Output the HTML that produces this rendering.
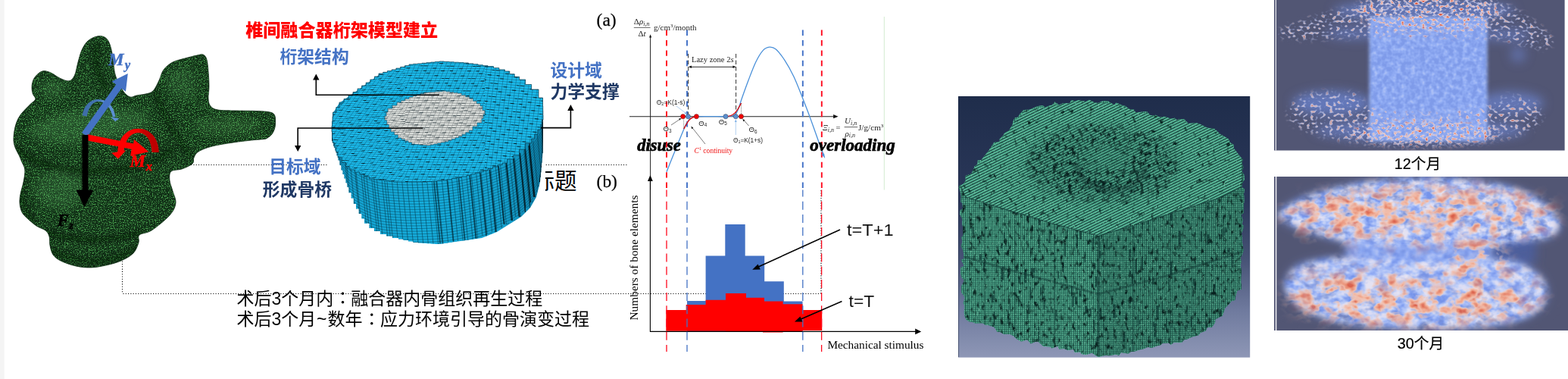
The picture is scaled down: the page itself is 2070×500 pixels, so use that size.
<!DOCTYPE html>
<html lang="zh-CN"><head><meta charset="utf-8"><title>椎间融合器桁架模型建立</title>
<style>
html,body{margin:0;padding:0;background:#fff;}
body{width:2070px;height:500px;overflow:hidden;font-family:"Liberation Sans","Noto Sans CJK SC",sans-serif;}
svg{display:block;position:absolute;left:0;top:0;}
.cj{font-family:"Liberation Sans","Noto Sans CJK SC",sans-serif;}
.se{font-family:"Liberation Serif","Noto Serif CJK SC",serif;}
.sa{font-family:"Liberation Sans","Noto Sans CJK SC",sans-serif;}
</style></head><body>
<svg width="2070" height="500" viewBox="0 0 2070 500">
<defs>
<clipPath id="vclip"><path d="M18.0 186.0C18.3 189.6 19.2 192.4 20.4 195.6C21.6 198.8 23.8 202.1 25.2 205.0C26.6 207.9 27.2 209.8 28.5 213.0C29.8 216.2 32.4 219.5 32.8 224.0C33.2 228.5 32.0 234.7 31.0 240.0C30.0 245.3 27.8 251.3 27.0 256.0C26.2 260.7 25.7 264.0 26.0 268.0C26.3 272.0 27.3 276.7 29.0 280.0C30.7 283.3 32.8 285.0 36.0 288.0C39.2 291.0 44.0 295.3 48.0 298.0C52.0 300.7 57.2 301.7 60.0 304.0C62.8 306.3 64.0 308.7 65.0 312.0C66.0 315.3 65.2 320.0 66.0 324.0C66.8 328.0 67.7 332.7 70.0 336.0C72.3 339.3 75.0 341.5 80.0 344.0C85.0 346.5 93.3 349.5 100.0 351.0C106.7 352.5 113.3 353.2 120.0 353.0C126.7 352.8 133.3 351.5 140.0 350.0C146.7 348.5 154.0 346.7 160.0 344.0C166.0 341.3 172.2 338.0 176.0 334.0C179.8 330.0 181.7 324.0 183.0 320.0C184.3 316.0 181.2 312.7 184.0 310.0C186.8 307.3 193.3 308.3 200.0 304.0C206.7 299.7 218.7 290.0 224.0 284.0C229.3 278.0 231.3 273.3 232.0 268.0C232.7 262.7 229.3 257.0 228.0 252.0C226.7 247.0 224.3 242.3 224.0 238.0C223.7 233.7 223.3 228.5 226.0 226.0C228.7 223.5 235.3 224.7 240.0 223.0C244.7 221.3 251.3 218.5 254.0 216.0C256.7 213.5 254.7 210.7 256.0 208.0C257.3 205.3 258.0 202.5 262.0 200.0C266.0 197.5 272.3 195.0 280.0 193.0C287.7 191.0 299.3 189.3 308.0 188.0C316.7 186.7 325.2 185.8 332.0 185.0C338.8 184.2 345.5 184.0 349.0 183.5C352.5 183.0 351.3 183.1 353.0 182.0C354.7 180.9 357.3 179.3 359.0 177.0C360.7 174.7 362.2 171.5 363.0 168.0C363.8 164.5 363.8 159.0 363.5 156.0C363.2 153.0 362.6 151.4 361.0 150.0C359.4 148.6 357.5 148.1 354.0 147.5C350.5 146.9 347.0 146.8 340.0 146.5C333.0 146.2 320.7 146.2 312.0 146.0C303.3 145.8 293.7 146.0 288.0 145.0C282.3 144.0 280.2 142.5 278.0 140.0C275.8 137.5 275.3 134.3 275.0 130.0C274.7 125.7 276.0 120.0 276.0 114.0C276.0 108.0 275.5 100.0 275.0 94.0C274.5 88.0 274.0 81.7 272.8 78.0C271.6 74.3 270.1 72.8 268.0 72.0C265.9 71.2 264.0 72.2 260.0 73.0C256.0 73.8 249.3 75.5 244.0 77.0C238.7 78.5 232.7 79.5 228.0 82.0C223.3 84.5 219.0 88.0 216.0 92.0C213.0 96.0 212.3 101.3 210.0 106.0C207.7 110.7 205.0 117.0 202.0 120.0C199.0 123.0 195.7 123.0 192.0 124.0C188.3 125.0 183.3 125.3 180.0 126.0C176.7 126.7 174.7 128.7 172.0 128.0C169.3 127.3 166.7 125.3 164.0 122.0C161.3 118.7 158.0 112.0 156.0 108.0C154.0 104.0 153.0 101.7 152.0 98.0C151.0 94.3 150.7 90.7 150.0 86.0C149.3 81.3 149.0 75.0 148.0 70.0C147.0 65.0 145.7 59.5 144.0 56.0C142.3 52.5 140.7 50.3 138.0 49.0C135.3 47.7 131.7 47.2 128.0 48.0C124.3 48.8 119.3 51.0 116.0 54.0C112.7 57.0 110.2 61.3 108.0 66.0C105.8 70.7 104.6 76.4 103.0 82.0C101.4 87.6 100.4 95.5 98.4 99.6C96.4 103.7 94.4 106.2 91.2 106.8C88.0 107.4 83.2 105.0 79.2 103.2C75.2 101.4 70.8 97.6 67.2 96.0C63.6 94.4 60.4 93.4 57.6 93.6C54.8 93.8 52.6 95.4 50.4 97.2C48.2 99.0 45.8 101.6 44.4 104.4C43.0 107.2 42.2 110.8 42.0 114.0C41.8 117.2 42.4 120.8 43.2 123.6C44.0 126.4 47.2 128.6 46.8 130.8C46.4 133.0 43.0 134.6 40.8 136.8C38.6 139.0 36.0 141.4 33.6 144.0C31.2 146.6 28.4 149.4 26.4 152.4C24.4 155.4 22.9 158.4 21.6 162.0C20.3 165.6 19.3 170.0 18.7 174.0C18.1 178.0 17.7 182.4 18.0 186.0Z"/></clipPath>
<pattern id="vdots" width="2.6" height="2.6" patternUnits="userSpaceOnUse" patternTransform="rotate(28)"><rect width="2.6" height="2.6" fill="#143a1b"/><rect x="0.2" y="0.2" width="1.5" height="1.5" fill="#4c9a52"/></pattern>
<filter id="vblur" x="-30%" y="-30%" width="160%" height="160%"><feGaussianBlur stdDeviation="6"/></filter>
<filter id="vblur2" x="-30%" y="-30%" width="160%" height="160%"><feGaussianBlur stdDeviation="3"/></filter>
<filter id="vnoise" filterUnits="userSpaceOnUse" x="10" y="40" width="360" height="320" color-interpolation-filters="sRGB"><feTurbulence type="fractalNoise" baseFrequency="0.75 0.75" numOctaves="2" seed="3" result="n"/><feColorMatrix type="matrix" values="0 0 0 0 0.30  0 0 0 0 0.66  0 0 0 0 0.32  0 5 0 0 -2.58"/></filter>
<linearGradient id="mxArc" x1="155" x2="210" y1="0" y2="0" gradientUnits="userSpaceOnUse"><stop offset="0" stop-color="#ff0000"/><stop offset="0.5" stop-color="#f00000"/><stop offset="0.62" stop-color="#c80000"/><stop offset="1" stop-color="#b80000"/></linearGradient>
<linearGradient id="myArc" x1="108" x2="156" y1="0" y2="0" gradientUnits="userSpaceOnUse"><stop offset="0" stop-color="#3d6ca6"/><stop offset="0.45" stop-color="#4474b0"/><stop offset="0.6" stop-color="#5b8fd2"/><stop offset="1" stop-color="#5b8fd2"/></linearGradient>
<clipPath id="cySide"><path d="M438.0 166.0L438.0 169.2L438.2 169.2L438.2 172.4L438.4 172.4L438.4 175.6L438.6 175.6L438.6 178.8L438.8 178.8L438.8 182.0L439.0 182.0L439.0 185.2L440.2 185.2L440.2 188.3L441.3 188.3L441.3 191.5L442.5 191.5L442.5 194.7L443.7 194.7L443.7 197.8L444.8 197.8L444.8 201.0L446.0 201.0L446.0 204.3L448.7 204.3L448.7 207.7L451.3 207.7L451.3 211.0L454.0 211.0L454.0 214.3L456.7 214.3L456.7 217.7L459.3 217.7L459.3 221.0L462.0 221.0L462.0 222.5L465.2 222.5L465.2 224.0L468.4 224.0L468.4 225.5L471.6 225.5L471.6 227.0L474.8 227.0L474.8 228.5L478.0 228.5L478.0 230.0L481.2 230.0L481.2 231.5L484.4 231.5L484.4 233.0L487.6 233.0L487.6 234.5L490.8 234.5L490.8 236.0L494.0 236.0L494.0 236.4L497.2 236.4L497.2 236.8L500.4 236.8L500.4 237.2L503.6 237.2L503.6 237.6L506.8 237.6L506.8 238.0L510.0 238.0L510.0 238.4L513.2 238.4L513.2 238.8L516.4 238.8L516.4 239.2L519.6 239.2L519.6 239.6L522.8 239.6L522.8 240.0L526.0 240.0L526.0 240.0L529.2 240.0L529.2 240.0L532.3 240.0L532.3 240.0L535.5 240.0L535.5 240.0L538.7 240.0L538.7 240.0L541.8 240.0L541.8 240.0L545.0 240.0L545.0 240.0L548.2 240.0L548.2 240.0L551.3 240.0L551.3 240.0L554.5 240.0L554.5 240.0L557.7 240.0L557.7 240.0L560.8 240.0L560.8 240.0L564.0 240.0L564.0 239.8L567.2 239.8L567.2 239.5L570.5 239.5L570.5 239.2L573.8 239.2L573.8 239.0L577.0 239.0L577.0 238.8L580.2 238.8L580.2 238.5L583.5 238.5L583.5 238.2L586.8 238.2L586.8 238.0L590.0 238.0L590.0 237.4L593.2 237.4L593.2 236.8L596.5 236.8L596.5 236.1L599.8 236.1L599.8 235.5L603.0 235.5L603.0 234.9L606.2 234.9L606.2 234.2L609.5 234.2L609.5 233.6L612.8 233.6L612.8 233.0L616.0 233.0L616.0 232.1L619.1 232.1L619.1 231.2L622.2 231.2L622.2 230.3L625.3 230.3L625.3 229.4L628.4 229.4L628.4 228.6L631.6 228.6L631.6 227.7L634.7 227.7L634.7 226.8L637.8 226.8L637.8 225.9L640.9 225.9L640.9 225.0L644.0 225.0L644.0 223.8L647.2 223.8L647.2 222.5L650.4 222.5L650.4 221.2L653.6 221.2L653.6 220.0L656.8 220.0L656.8 218.8L660.0 218.8L660.0 217.5L663.2 217.5L663.2 216.2L666.4 216.2L666.4 215.0L669.6 215.0L669.6 213.0L672.8 213.0L672.8 211.0L676.0 211.0L676.0 209.0L679.2 209.0L679.2 207.0L682.4 207.0L682.4 205.0L685.6 205.0L685.6 201.8L688.8 201.8L688.8 198.6L692.0 198.6L692.0 195.4L695.2 195.4L695.2 192.2L698.4 192.2L698.4 189.0L701.6 189.0L701.6 186.0L703.7 186.0L703.7 183.0L705.7 183.0L705.7 180.0L707.8 180.0L707.8 177.0L709.9 177.0L709.9 174.0L711.9 174.0L711.9 171.0L714.0 171.0L714.0 167.8L714.8 167.8L714.8 164.5L715.5 164.5L715.5 161.2L716.2 161.2L716.2 158.0L717.0 158.0L716.5 202.0L715.9 202.0L715.9 208.3L715.3 208.3L715.3 214.7L714.8 214.7L714.8 221.0L714.2 221.0L714.2 227.3L713.6 227.3L713.6 233.7L713.0 233.7L713.0 240.0L711.3 240.0L711.3 246.7L709.7 246.7L709.7 253.3L708.0 253.3L708.0 260.0L704.0 260.0L704.0 267.0L700.0 267.0L700.0 274.0L694.0 274.0L694.0 280.0L688.0 280.0L688.0 286.0L680.0 286.0L680.0 291.0L672.0 291.0L672.0 296.0L664.0 296.0L664.0 301.0L656.0 301.0L656.0 306.0L649.3 306.0L649.3 308.7L642.7 308.7L642.7 311.3L636.0 311.3L636.0 314.0L630.4 314.0L630.4 314.8L624.8 314.8L624.8 315.6L619.2 315.6L619.2 316.4L613.6 316.4L613.6 317.2L608.0 317.2L608.0 318.0L602.4 318.0L602.4 318.8L596.8 318.8L596.8 319.6L591.2 319.6L591.2 320.4L585.6 320.4L585.6 321.2L580.0 321.2L580.0 322.0L574.4 322.0L574.4 321.6L568.8 321.6L568.8 321.2L563.2 321.2L563.2 320.8L557.6 320.8L557.6 320.4L552.0 320.4L552.0 320.0L545.5 320.0L545.5 318.5L539.0 318.5L539.0 317.0L532.5 317.0L532.5 315.5L526.0 315.5L526.0 314.0L518.0 314.0L518.0 311.5L510.0 311.5L510.0 309.0L502.0 309.0L502.0 305.0L494.0 305.0L494.0 301.0L487.5 301.0L487.5 294.7L481.0 294.7L481.0 288.4L477.3 288.4L477.3 281.9L473.7 281.9L473.7 275.5L470.0 275.5L470.0 269.0L466.8 269.0L466.8 261.6L463.6 261.6L463.6 254.2L460.4 254.2L460.4 246.8L458.4 246.8L458.4 241.2L456.4 241.2L456.4 235.6L454.4 235.6L454.4 230.0L452.4 230.0L452.4 224.4L450.4 224.4L450.4 218.0L448.4 218.0L448.4 211.6L446.4 211.6L446.4 205.2L444.4 205.2L444.4 198.8L442.3 198.8L442.3 192.4L440.1 192.4L440.1 186.0L438.0 186.0L438.0 179.6Z"/></clipPath>
<clipPath id="cyTop"><path d="M438.0 166.0L438.5 166.0L438.5 160.0L439.1 160.0L439.1 154.0L439.6 154.0L439.6 148.0L443.8 148.0L443.8 141.5L448.0 141.5L448.0 135.0L454.0 135.0L454.0 130.5L460.0 130.5L460.0 126.0L466.0 126.0L466.0 121.5L472.0 121.5L472.0 117.0L477.6 117.0L477.6 113.0L483.2 113.0L483.2 109.0L488.8 109.0L488.8 105.0L494.4 105.0L494.4 101.0L500.0 101.0L500.0 97.0L505.7 97.0L505.7 95.3L511.4 95.3L511.4 93.6L517.1 93.6L517.1 91.9L522.9 91.9L522.9 90.1L528.6 90.1L528.6 88.4L534.3 88.4L534.3 86.7L540.0 86.7L540.0 85.0L545.7 85.0L545.7 84.4L551.4 84.4L551.4 83.9L557.1 83.9L557.1 83.3L562.9 83.3L562.9 82.7L568.6 82.7L568.6 82.1L574.3 82.1L574.3 81.6L580.0 81.6L580.0 81.0L586.4 81.0L586.4 81.4L592.8 81.4L592.8 81.8L599.2 81.8L599.2 82.2L605.6 82.2L605.6 82.6L612.0 82.6L612.0 83.0L618.4 83.0L618.4 83.9L624.8 83.9L624.8 84.8L631.2 84.8L631.2 85.8L637.6 85.8L637.6 86.7L644.0 86.7L644.0 87.6L651.5 87.6L651.5 89.7L658.9 89.7L658.9 91.9L666.4 91.9L666.4 94.0L672.8 94.0L672.8 97.7L679.2 97.7L679.2 101.3L685.6 101.3L685.6 105.0L693.6 105.0L693.6 111.5L701.6 111.5L701.6 118.0L711.0 118.0L711.0 129.0L716.5 129.0L716.5 140.0L716.7 140.0L716.7 146.0L716.8 146.0L716.8 152.0L717.0 152.0L717.0 158.0L715.5 158.0L715.5 164.5L714.0 164.5L714.0 171.0L709.9 171.0L709.9 177.0L705.7 177.0L705.7 183.0L701.6 183.0L701.6 189.0L693.6 189.0L693.6 197.0L685.6 197.0L685.6 205.0L677.6 205.0L677.6 210.0L669.6 210.0L669.6 215.0L663.2 215.0L663.2 217.5L656.8 217.5L656.8 220.0L650.4 220.0L650.4 222.5L644.0 222.5L644.0 225.0L638.4 225.0L638.4 226.6L632.8 226.6L632.8 228.2L627.2 228.2L627.2 229.8L621.6 229.8L621.6 231.4L616.0 231.4L616.0 233.0L609.5 233.0L609.5 234.2L603.0 234.2L603.0 235.5L596.5 235.5L596.5 236.8L590.0 236.8L590.0 238.0L583.5 238.0L583.5 238.5L577.0 238.5L577.0 239.0L570.5 239.0L570.5 239.5L564.0 239.5L564.0 240.0L557.7 240.0L557.7 240.0L551.3 240.0L551.3 240.0L545.0 240.0L545.0 240.0L538.7 240.0L538.7 240.0L532.3 240.0L532.3 240.0L526.0 240.0L526.0 240.0L519.6 240.0L519.6 239.2L513.2 239.2L513.2 238.4L506.8 238.4L506.8 237.6L500.4 237.6L500.4 236.8L494.0 236.8L494.0 236.0L487.6 236.0L487.6 233.0L481.2 233.0L481.2 230.0L474.8 230.0L474.8 227.0L468.4 227.0L468.4 224.0L462.0 224.0L462.0 221.0L456.7 221.0L456.7 214.3L451.3 214.3L451.3 207.7L446.0 207.7L446.0 201.0L443.7 201.0L443.7 194.7L441.3 194.7L441.3 188.3L439.0 188.3L439.0 182.0L438.5 182.0L438.5 174.0L438.0 174.0L438.0 166.0Z"/></clipPath>
<pattern id="cyTopPat" width="6.2" height="3.5" patternUnits="userSpaceOnUse" patternTransform="matrix(0.998 -0.03 -0.30 0.95 0 0)"><rect width="6.2" height="3.5" fill="#14b6e6"/><path d="M0 0.3H6.2" stroke="#083c52" stroke-width="0.6"/><path d="M0.3 0V3.5" stroke="#0a5070" stroke-width="0.6"/><path d="M0.8 1H6.2" stroke="#46ccf4" stroke-width="0.5" opacity="0.6"/></pattern>
<pattern id="cyDash" width="37.2" height="17.5" patternUnits="userSpaceOnUse" patternTransform="matrix(0.998 -0.03 -0.30 0.95 0 0)"><path d="M1 0.3h5M14 3.8h4.6M26 7.3h5M8 10.8h4.6M20 14.3h5M32 0.3h4M3 7.3h4" stroke="#01141c" stroke-width="0.95" fill="none"/></pattern>
<pattern id="cyGrayPat" width="6.2" height="3.5" patternUnits="userSpaceOnUse" patternTransform="matrix(0.998 -0.03 -0.30 0.95 0 0)"><rect width="6.2" height="3.5" fill="#d6dad7"/><path d="M0 0.3H6.2" stroke="#4a5052" stroke-width="0.6"/><path d="M0.3 0V3.5" stroke="#7c8284" stroke-width="0.6"/></pattern>
<linearGradient id="cySideG" x1="438" x2="717" y1="0" y2="0" gradientUnits="userSpaceOnUse"><stop offset="0" stop-color="#1192c0"/><stop offset="0.12" stop-color="#14a4d2"/><stop offset="0.45" stop-color="#15addc"/><stop offset="0.8" stop-color="#14a2d0"/><stop offset="1" stop-color="#0e7ea6"/></linearGradient>
<clipPath id="cyGray"><path d="M508.0 153.0L510.0 153.0L510.0 148.0L512.0 148.0L512.0 143.0L518.0 143.0L518.0 139.0L524.0 139.0L524.0 135.0L529.3 135.0L529.3 132.7L534.7 132.7L534.7 130.3L540.0 130.3L540.0 128.0L545.0 128.0L545.0 126.5L550.0 126.5L550.0 125.0L555.0 125.0L555.0 123.5L560.0 123.5L560.0 122.0L564.8 122.0L564.8 121.6L569.6 121.6L569.6 121.2L574.4 121.2L574.4 120.8L579.2 120.8L579.2 120.4L584.0 120.4L584.0 120.0L589.0 120.0L589.0 120.8L594.0 120.8L594.0 121.5L599.0 121.5L599.0 122.2L604.0 122.2L604.0 123.0L609.3 123.0L609.3 125.3L614.7 125.3L614.7 127.7L620.0 127.7L620.0 130.0L624.7 130.0L624.7 133.3L629.3 133.3L629.3 136.7L634.0 136.7L634.0 140.0L637.0 140.0L637.0 145.5L640.0 145.5L640.0 151.0L638.0 151.0L638.0 156.5L636.0 156.5L636.0 162.0L630.0 162.0L630.0 167.0L624.0 167.0L624.0 172.0L619.3 172.0L619.3 174.7L614.7 174.7L614.7 177.3L610.0 177.3L610.0 180.0L605.5 180.0L605.5 181.8L601.0 181.8L601.0 183.5L596.5 183.5L596.5 185.2L592.0 185.2L592.0 187.0L587.2 187.0L587.2 188.0L582.4 188.0L582.4 189.0L577.6 189.0L577.6 190.0L572.8 190.0L572.8 191.0L568.0 191.0L568.0 192.0L563.0 192.0L563.0 191.5L558.0 191.5L558.0 191.0L553.0 191.0L553.0 190.5L548.0 190.5L548.0 190.0L543.5 190.0L543.5 188.0L539.0 188.0L539.0 186.0L534.5 186.0L534.5 184.0L530.0 184.0L530.0 182.0L525.3 182.0L525.3 178.0L520.7 178.0L520.7 174.0L516.0 174.0L516.0 170.0L513.3 170.0L513.3 164.3L510.7 164.3L510.7 158.7L508.0 158.7L508.0 153.0Z"/></clipPath>
<pattern id="cyL0" width="5.8" height="3.5" patternUnits="userSpaceOnUse" patternTransform="matrix(0.999 -0.052 -0.574 0.819 0 0)"><path d="M0 0.3H5.8" stroke="#07445e" stroke-width="0.6"/><path d="M0.3 0V3.5" stroke="#0c5c80" stroke-width="0.55"/><path d="M0.9 0.95H5.8" stroke="#52d2f8" stroke-width="0.45" opacity="0.55"/></pattern>
<pattern id="cyD0" width="34.8" height="17.5" patternUnits="userSpaceOnUse" patternTransform="matrix(0.999 -0.052 -0.574 0.819 0 0)"><path d="M1 0.3h5M14 3.8h4.6M26 7.3h5M8 10.8h4.6M20 14.3h5M31 0.3h3.5M3 7.3h4" stroke="#01141c" stroke-width="0.95" fill="none"/></pattern>
<clipPath id="cyZ0"><rect x="430" y="70" width="105" height="190"/></clipPath>
<pattern id="cyG0" width="5.8" height="3.5" patternUnits="userSpaceOnUse" patternTransform="matrix(0.999 -0.052 -0.574 0.819 0 0)"><path d="M0 0.3H5.8" stroke="#4e5456" stroke-width="0.6"/><path d="M0.3 0V3.5" stroke="#777d7f" stroke-width="0.6"/></pattern>
<pattern id="cyL1" width="5.8" height="3.5" patternUnits="userSpaceOnUse" patternTransform="matrix(1.000 0.009 -0.375 0.927 0 0)"><path d="M0 0.3H5.8" stroke="#07445e" stroke-width="0.6"/><path d="M0.3 0V3.5" stroke="#0c5c80" stroke-width="0.55"/><path d="M0.9 0.95H5.8" stroke="#52d2f8" stroke-width="0.45" opacity="0.55"/></pattern>
<pattern id="cyD1" width="34.8" height="17.5" patternUnits="userSpaceOnUse" patternTransform="matrix(1.000 0.009 -0.375 0.927 0 0)"><path d="M1 0.3h5M14 3.8h4.6M26 7.3h5M8 10.8h4.6M20 14.3h5M31 0.3h3.5M3 7.3h4" stroke="#01141c" stroke-width="0.95" fill="none"/></pattern>
<clipPath id="cyZ1"><rect x="535" y="70" width="105" height="190"/></clipPath>
<pattern id="cyG1" width="5.8" height="3.5" patternUnits="userSpaceOnUse" patternTransform="matrix(1.000 0.009 -0.375 0.927 0 0)"><path d="M0 0.3H5.8" stroke="#4e5456" stroke-width="0.6"/><path d="M0.3 0V3.5" stroke="#777d7f" stroke-width="0.6"/></pattern>
<pattern id="cyL2" width="5.8" height="3.5" patternUnits="userSpaceOnUse" patternTransform="matrix(0.996 0.087 -0.139 0.990 0 0)"><path d="M0 0.3H5.8" stroke="#07445e" stroke-width="0.6"/><path d="M0.3 0V3.5" stroke="#0c5c80" stroke-width="0.55"/><path d="M0.9 0.95H5.8" stroke="#52d2f8" stroke-width="0.45" opacity="0.55"/></pattern>
<pattern id="cyD2" width="34.8" height="17.5" patternUnits="userSpaceOnUse" patternTransform="matrix(0.996 0.087 -0.139 0.990 0 0)"><path d="M1 0.3h5M14 3.8h4.6M26 7.3h5M8 10.8h4.6M20 14.3h5M31 0.3h3.5M3 7.3h4" stroke="#01141c" stroke-width="0.95" fill="none"/></pattern>
<clipPath id="cyZ2"><rect x="640" y="70" width="85" height="190"/></clipPath>
<pattern id="cyG2" width="5.8" height="3.5" patternUnits="userSpaceOnUse" patternTransform="matrix(0.996 0.087 -0.139 0.990 0 0)"><path d="M0 0.3H5.8" stroke="#4e5456" stroke-width="0.6"/><path d="M0.3 0V3.5" stroke="#777d7f" stroke-width="0.6"/></pattern>
<linearGradient id="laBg" x1="0" x2="0" y1="127" y2="471.5" gradientUnits="userSpaceOnUse"><stop offset="0" stop-color="#1f2d4b"/><stop offset="0.4" stop-color="#2a3759"/><stop offset="0.62" stop-color="#465275"/><stop offset="0.82" stop-color="#6f7a9e"/><stop offset="1" stop-color="#8e97b6"/></linearGradient>
<clipPath id="laClip"><path d="M1267.6 245.3L1271.8 242.4L1274.8 238.4L1274.5 232.1L1282.5 229.2L1285.6 222.5L1286.6 219.3L1290.3 217.1L1290.9 211.3L1295.6 211.1L1301.4 203.2L1305.0 199.2L1307.5 195.2L1307.8 195.1L1312.4 187.8L1319.8 187.3L1319.7 183.8L1324.5 178.4L1326.2 175.8L1332.2 172.0L1336.7 164.6L1337.4 160.0L1339.8 155.5L1344.0 154.4L1346.0 150.9L1351.2 145.0L1359.1 144.8L1361.9 143.6L1369.3 140.3L1376.2 138.9L1380.4 142.1L1382.1 140.6L1389.3 138.4L1392.4 134.6L1398.3 138.4L1403.4 136.3L1412.2 136.3L1414.2 132.2L1420.1 133.4L1423.0 132.3L1431.5 133.4L1432.6 134.4L1437.9 131.8L1445.6 135.4L1449.2 136.0L1455.2 133.4L1459.0 133.2L1462.8 133.6L1471.0 138.6L1473.5 135.4L1483.1 139.6L1485.4 139.8L1491.6 144.6L1496.2 144.2L1499.4 148.4L1504.6 148.0L1513.9 147.1L1518.6 152.3L1523.2 152.5L1525.7 151.7L1531.1 154.8L1537.0 153.8L1545.9 156.8L1550.9 155.8L1553.6 158.2L1558.7 156.9L1563.5 157.2L1568.8 163.0L1577.2 162.5L1580.3 162.4L1583.6 163.5L1592.6 168.1L1595.9 169.1L1603.4 170.0L1607.5 173.8L1610.5 176.9L1614.7 179.1L1621.8 183.6L1623.9 188.3L1628.8 191.0L1628.5 195.4L1632.7 200.7L1636.8 206.0L1640.8 210.5L1639.3 214.8L1641.4 220.9L1639.5 226.1L1642.3 230.4L1643.0 236.9L1640.7 239.8L1639.0 246.5L1643.1 249.7L1641.9 256.0L1642.2 258.3L1642.5 265.4L1641.9 269.6L1641.6 276.4L1641.7 281.1L1638.5 283.2L1640.7 290.8L1639.5 296.0L1641.7 297.6L1640.9 303.6L1638.7 308.1L1640.1 313.3L1639.4 317.6L1640.8 324.4L1641.6 330.5L1639.2 337.2L1637.6 339.7L1638.6 344.8L1637.4 352.1L1638.3 353.1L1639.2 358.5L1638.4 364.9L1638.2 373.2L1639.1 375.5L1638.6 381.7L1633.3 383.4L1631.5 389.8L1630.4 396.1L1625.6 397.1L1624.0 399.5L1617.0 406.7L1616.6 408.7L1613.7 416.8L1609.4 418.6L1604.4 421.4L1604.1 425.4L1599.9 431.7L1593.8 431.8L1591.7 436.5L1584.6 439.1L1582.3 442.2L1573.4 444.4L1567.3 447.4L1563.7 447.9L1559.8 451.9L1550.1 451.5L1545.8 454.8L1542.8 452.3L1534.5 453.0L1532.5 454.9L1525.3 457.1L1520.3 459.0L1515.5 457.8L1510.4 460.0L1503.9 461.4L1497.4 463.7L1493.1 464.0L1489.3 466.5L1480.2 465.1L1476.9 469.0L1473.7 467.5L1463.8 469.2L1460.5 468.5L1456.5 469.3L1449.9 471.1L1444.4 467.5L1441.8 465.6L1433.9 468.0L1427.7 467.1L1426.0 464.2L1418.9 465.1L1417.1 460.8L1409.9 462.1L1405.0 460.0L1398.2 460.4L1396.6 456.6L1388.6 459.4L1386.5 457.5L1377.5 456.7L1377.5 457.0L1371.0 451.0L1366.8 450.8L1360.8 453.5L1356.1 448.1L1348.4 450.5L1342.2 447.2L1338.1 443.2L1333.6 441.0L1325.5 441.0L1319.8 437.7L1316.7 437.9L1312.6 431.4L1304.6 429.0L1300.5 428.4L1297.3 426.3L1287.7 426.5L1283.2 424.7L1280.0 424.6L1275.3 421.6L1273.3 416.1L1272.7 412.1L1273.6 403.7L1271.6 399.8L1273.7 393.7L1273.1 391.1L1269.3 386.0L1268.9 378.0L1271.4 373.6L1272.8 369.9L1269.8 366.5L1268.2 361.2L1268.3 353.2L1272.9 350.9L1269.0 343.0L1272.8 340.9L1271.9 333.1L1270.8 329.2L1268.7 324.1L1270.6 319.2L1269.3 313.1L1271.5 310.8L1271.3 304.7L1271.4 300.1L1270.0 295.4L1270.6 289.5L1267.2 282.6L1267.7 277.6L1271.1 274.9L1270.4 267.4L1268.4 266.8L1268.8 259.2L1267.6 252.3L1265.6 247.4L1267.0 244.0Z"/></clipPath>
<clipPath id="laTopClip"><path d="M1266.2 242.5L1271.0 238.2L1273.8 235.6L1275.0 232.3L1278.2 228.1L1281.6 222.7L1286.5 222.0L1288.4 215.5L1294.0 214.8L1297.0 208.4L1302.1 203.0L1305.0 200.1L1305.4 195.5L1309.6 194.6L1312.5 189.6L1317.9 184.8L1321.0 179.5L1322.3 176.2L1328.5 173.2L1330.4 170.0L1334.5 164.8L1339.4 162.6L1340.5 158.1L1345.2 155.5L1349.5 149.0L1354.1 144.3L1357.1 146.0L1361.3 143.7L1366.3 143.3L1374.9 141.7L1380.8 139.5L1385.4 139.6L1390.4 137.8L1396.5 139.0L1399.9 136.7L1403.1 135.9L1410.6 136.2L1416.4 132.1L1419.5 132.7L1422.9 130.8L1428.5 129.9L1433.1 133.3L1438.4 131.6L1444.5 134.9L1448.2 133.6L1455.2 136.0L1461.4 136.5L1464.0 135.1L1469.4 137.7L1477.3 136.2L1479.1 138.2L1484.7 141.1L1491.5 141.8L1494.2 144.2L1501.1 146.6L1509.0 148.8L1512.2 149.5L1518.1 148.0L1524.3 152.2L1529.4 153.3L1532.4 152.6L1536.3 154.6L1541.3 153.1L1547.2 154.5L1552.9 155.0L1556.6 156.5L1562.2 158.4L1567.3 162.1L1575.4 160.3L1579.2 162.6L1585.1 163.1L1592.7 168.3L1596.4 167.5L1600.2 167.2L1605.9 171.4L1612.6 174.3L1613.7 181.2L1620.5 181.0L1625.2 183.9L1628.1 192.7L1632.6 196.1L1632.9 199.2L1635.5 205.6L1640.0 209.0L1640.0 209.0L1640.0 246.0L1610.0 261.0L1560.0 277.0L1500.0 296.0L1450.0 311.0L1390.0 295.0L1330.0 277.0L1275.0 260.0L1267.0 244.0Z"/></clipPath>
<clipPath id="laSideClip"><path d="M1267.0 244.0L1275.0 260.0L1330.0 277.0L1390.0 295.0L1450.0 311.0L1500.0 296.0L1560.0 277.0L1610.0 261.0L1640.0 246.0L1640.0 209.0L1641.0 260.0L1641.0 330.0L1637.0 381.0L1610.0 419.0L1585.0 440.0L1564.0 449.0L1530.0 456.0L1488.0 466.0L1450.0 469.0L1400.0 460.0L1355.0 450.0L1322.0 440.0L1305.0 430.0L1275.0 421.0L1271.0 380.0L1270.0 320.0L1269.0 270.0Z"/></clipPath>
<clipPath id="laBox"><rect x="1265.2" y="127" width="385" height="344.5"/></clipPath>
<pattern id="laStripe" width="6" height="3.3" patternUnits="userSpaceOnUse" patternTransform="rotate(-26)"><rect width="6" height="3.3" fill="#58bb99"/><rect y="2.05" width="6" height="1.25" fill="#153c39"/></pattern>
<pattern id="laGrid" width="2.6" height="2.6" patternUnits="userSpaceOnUse"><rect width="2.6" height="2.6" fill="#58ba97"/><path d="M0 0.4H2.6" stroke="#205a50" stroke-width="0.7"/><path d="M0.4 0V2.6" stroke="#1a4c45" stroke-width="0.85"/></pattern>
<filter id="laPoreSide" filterUnits="userSpaceOnUse" x="1265" y="127" width="386" height="345" color-interpolation-filters="sRGB"><feTurbulence type="fractalNoise" baseFrequency="0.2 0.13" numOctaves="2" seed="8"/><feColorMatrix type="matrix" values="0 0 0 0 0.03  0 0 0 0 0.13  0 0 0 0 0.12  2.6 2.6 0 0 -2.74" result="p"/><feComposite in="p" in2="SourceAlpha" operator="in"/></filter>
<filter id="laPoreRing" filterUnits="userSpaceOnUse" x="1265" y="127" width="386" height="345" color-interpolation-filters="sRGB"><feTurbulence type="fractalNoise" baseFrequency="0.2 0.16" numOctaves="2" seed="28"/><feColorMatrix type="matrix" values="0 0 0 0 0.03  0 0 0 0 0.13  0 0 0 0 0.12  2.6 2.6 0 0 -2.55" result="p"/><feGaussianBlur in="SourceAlpha" stdDeviation="6" result="sa"/><feComposite in="p" in2="sa" operator="in"/></filter>
<filter id="laPoreTop" filterUnits="userSpaceOnUse" x="1265" y="127" width="386" height="345" color-interpolation-filters="sRGB"><feTurbulence type="fractalNoise" baseFrequency="0.16 0.14" numOctaves="3" seed="38"/><feColorMatrix type="matrix" values="0 0 0 0 0.03  0 0 0 0 0.13  0 0 0 0 0.12  2.6 2.6 0 0 -3.05" result="p"/><feComposite in="p" in2="SourceAlpha" operator="in"/></filter>
<filter id="laLite" filterUnits="userSpaceOnUse" x="1265" y="127" width="386" height="345" color-interpolation-filters="sRGB"><feTurbulence type="fractalNoise" baseFrequency="0.5 0.5" numOctaves="1" seed="4"/><feColorMatrix type="matrix" values="0 0 0 0 0.62  0 0 0 0 0.9  0 0 0 0 0.78  2.2 2.2 0 0 -2.55" result="p"/><feComposite in="p" in2="SourceAlpha" operator="in"/></filter>
<filter id="laBlur" x="-30%" y="-30%" width="160%" height="160%"><feGaussianBlur stdDeviation="7"/></filter>
<filter id="laBlur3" x="-30%" y="-30%" width="160%" height="160%"><feGaussianBlur stdDeviation="2.5"/></filter>
<clipPath id="b1Clip"><rect x="1685" y="0" width="380.6" height="198.5"/></clipPath>
<clipPath id="b2Clip"><rect x="1685.4" y="233" width="384.6" height="203"/></clipPath>
<filter id="bBlur8" x="-30%" y="-30%" width="160%" height="160%"><feGaussianBlur stdDeviation="7"/></filter>
<filter id="bBlur4" x="-30%" y="-30%" width="160%" height="160%"><feGaussianBlur stdDeviation="4"/></filter>
<filter id="bBlur2" x="-30%" y="-30%" width="160%" height="160%"><feGaussianBlur stdDeviation="2"/></filter>
<filter id="b1col" filterUnits="userSpaceOnUse" x="1685" y="0" width="381" height="199" color-interpolation-filters="sRGB"><feTurbulence type="fractalNoise" baseFrequency="0.16 0.16" numOctaves="2" seed="3" result="n"/><feColorMatrix in="n" type="matrix" values="2.2 0 0 0 -0.75  2.2 0 0 0 -0.75  2.2 0 0 0 -0.75  0 0 0 0 1" result="g"/><feComponentTransfer in="g" result="c"><feFuncR type="table" tableValues="0.46 0.53 0.61 0.74"/><feFuncG type="table" tableValues="0.57 0.64 0.71 0.80"/><feFuncB type="table" tableValues="0.90 0.94 0.98 0.98"/></feComponentTransfer><feColorMatrix in="n" type="matrix" values="0 0 0 0 1  0 0 0 0 1  0 0 0 0 1  0 0 0 0 0.6" result="a"/><feComposite in="c" in2="a" operator="in" result="ca"/><feGaussianBlur in="SourceAlpha" stdDeviation="3" result="sa"/><feComposite in="ca" in2="sa" operator="in" result="o"/></filter>
<filter id="b1top" filterUnits="userSpaceOnUse" x="1685" y="0" width="381" height="199" color-interpolation-filters="sRGB"><feTurbulence type="fractalNoise" baseFrequency="0.2 0.26" numOctaves="1" seed="7" result="n"/><feColorMatrix in="n" type="matrix" values="3 0 0 0 -1.6  3 0 0 0 -1.6  3 0 0 0 -1.6  0 0 0 0 1" result="g"/><feComponentTransfer in="g" result="c"><feFuncR type="table" tableValues="0.55 0.69 0.82 0.91 0.92 0.88 0.82"/><feFuncG type="table" tableValues="0.63 0.73 0.80 0.78 0.65 0.47 0.31"/><feFuncB type="table" tableValues="0.88 0.91 0.89 0.78 0.59 0.39 0.25"/></feComponentTransfer><feColorMatrix in="n" type="matrix" values="0 0 0 0 1  0 0 0 0 1  0 0 0 0 1  8 0 0 0 -4.1" result="a"/><feComposite in="c" in2="a" operator="in" result="ca"/><feGaussianBlur in="SourceAlpha" stdDeviation="3" result="sa"/><feComposite in="ca" in2="sa" operator="in" result="o"/><feGaussianBlur in="o" stdDeviation="0.6"/></filter>
<filter id="b1bot" filterUnits="userSpaceOnUse" x="1685" y="0" width="381" height="199" color-interpolation-filters="sRGB"><feTurbulence type="fractalNoise" baseFrequency="0.2 0.26" numOctaves="1" seed="17" result="n"/><feColorMatrix in="n" type="matrix" values="3 0 0 0 -1.6  3 0 0 0 -1.6  3 0 0 0 -1.6  0 0 0 0 1" result="g"/><feComponentTransfer in="g" result="c"><feFuncR type="table" tableValues="0.55 0.69 0.82 0.91 0.92 0.88 0.82"/><feFuncG type="table" tableValues="0.63 0.73 0.80 0.78 0.65 0.47 0.31"/><feFuncB type="table" tableValues="0.88 0.91 0.89 0.78 0.59 0.39 0.25"/></feComponentTransfer><feColorMatrix in="n" type="matrix" values="0 0 0 0 1  0 0 0 0 1  0 0 0 0 1  8 0 0 0 -4.15" result="a"/><feComposite in="c" in2="a" operator="in" result="ca"/><feGaussianBlur in="SourceAlpha" stdDeviation="3.5" result="sa"/><feComposite in="ca" in2="sa" operator="in" result="o"/><feGaussianBlur in="o" stdDeviation="0.6"/></filter>
<filter id="b1dense" filterUnits="userSpaceOnUse" x="1685" y="0" width="381" height="199" color-interpolation-filters="sRGB"><feTurbulence type="fractalNoise" baseFrequency="0.22 0.28" numOctaves="1" seed="27" result="n"/><feColorMatrix in="n" type="matrix" values="3.4 0 0 0 -1.7  3.4 0 0 0 -1.7  3.4 0 0 0 -1.7  0 0 0 0 1" result="g"/><feComponentTransfer in="g" result="c"><feFuncR type="table" tableValues="0.55 0.69 0.82 0.91 0.92 0.88 0.82"/><feFuncG type="table" tableValues="0.63 0.73 0.80 0.78 0.65 0.47 0.31"/><feFuncB type="table" tableValues="0.88 0.91 0.89 0.78 0.59 0.39 0.25"/></feComponentTransfer><feColorMatrix in="n" type="matrix" values="0 0 0 0 1  0 0 0 0 1  0 0 0 0 1  8 0 0 0 -3.9" result="a"/><feComposite in="c" in2="a" operator="in" result="ca"/><feGaussianBlur in="SourceAlpha" stdDeviation="5" result="sa"/><feComposite in="ca" in2="sa" operator="in" result="o"/><feGaussianBlur in="o" stdDeviation="0.6"/></filter>
<filter id="b2col" filterUnits="userSpaceOnUse" x="1685" y="233" width="385" height="203" color-interpolation-filters="sRGB"><feTurbulence type="fractalNoise" baseFrequency="0.09 0.09" numOctaves="2" seed="31" result="n"/><feColorMatrix in="n" type="matrix" values="2.2 0 0 0 -0.7  2.2 0 0 0 -0.7  2.2 0 0 0 -0.7  0 0 0 0 1" result="g"/><feComponentTransfer in="g" result="c"><feFuncR type="table" tableValues="0.46 0.53 0.61 0.74"/><feFuncG type="table" tableValues="0.57 0.64 0.71 0.80"/><feFuncB type="table" tableValues="0.90 0.94 0.98 0.98"/></feComponentTransfer><feColorMatrix in="n" type="matrix" values="0 0 0 0 1  0 0 0 0 1  0 0 0 0 1  0 0 0 0 0.75" result="a"/><feComposite in="c" in2="a" operator="in" result="ca"/><feGaussianBlur in="SourceAlpha" stdDeviation="5" result="sa"/><feComposite in="ca" in2="sa" operator="in" result="o"/></filter>
<filter id="b2top" filterUnits="userSpaceOnUse" x="1685" y="233" width="385" height="203" color-interpolation-filters="sRGB"><feTurbulence type="fractalNoise" baseFrequency="0.065 0.09" numOctaves="3" seed="41" result="n"/><feColorMatrix in="n" type="matrix" values="2 0 0 0 -0.5  2 0 0 0 -0.5  2 0 0 0 -0.5  0 0 0 0 1" result="g"/><feComponentTransfer in="g" result="c"><feFuncR type="table" tableValues="0.46 0.54 0.64 0.75 0.85 0.90"/><feFuncG type="table" tableValues="0.58 0.65 0.73 0.81 0.86 0.89"/><feFuncB type="table" tableValues="0.92 0.95 0.97 0.97 0.96 0.95"/></feComponentTransfer><feColorMatrix in="n" type="matrix" values="0 0 0 0 1  0 0 0 0 1  0 0 0 0 1  0 3.2 0 0 -0.6" result="a"/><feComposite in="c" in2="a" operator="in" result="ca"/><feGaussianBlur in="SourceAlpha" stdDeviation="4" result="sa"/><feComposite in="ca" in2="sa" operator="in" result="o"/><feGaussianBlur in="o" stdDeviation="0.6"/></filter>
<filter id="b2bot" filterUnits="userSpaceOnUse" x="1685" y="233" width="385" height="203" color-interpolation-filters="sRGB"><feTurbulence type="fractalNoise" baseFrequency="0.055 0.075" numOctaves="3" seed="51" result="n"/><feColorMatrix in="n" type="matrix" values="2 0 0 0 -0.5  2 0 0 0 -0.5  2 0 0 0 -0.5  0 0 0 0 1" result="g"/><feComponentTransfer in="g" result="c"><feFuncR type="table" tableValues="0.46 0.54 0.64 0.75 0.85 0.90"/><feFuncG type="table" tableValues="0.58 0.65 0.73 0.81 0.86 0.89"/><feFuncB type="table" tableValues="0.92 0.95 0.97 0.97 0.96 0.95"/></feComponentTransfer><feColorMatrix in="n" type="matrix" values="0 0 0 0 1  0 0 0 0 1  0 0 0 0 1  0 3.2 0 0 -0.6" result="a"/><feComposite in="c" in2="a" operator="in" result="ca"/><feGaussianBlur in="SourceAlpha" stdDeviation="4" result="sa"/><feComposite in="ca" in2="sa" operator="in" result="o"/><feGaussianBlur in="o" stdDeviation="0.6"/></filter>
<filter id="b2warmA" filterUnits="userSpaceOnUse" x="1685" y="233" width="385" height="203" color-interpolation-filters="sRGB"><feTurbulence type="fractalNoise" baseFrequency="0.05 0.07" numOctaves="3" seed="61" result="n"/><feColorMatrix in="n" type="matrix" values="3 0 0 0 -1.45  3 0 0 0 -1.45  3 0 0 0 -1.45  0 0 0 0 1" result="g"/><feComponentTransfer in="g" result="c"><feFuncR type="table" tableValues="0.93 0.94 0.95 0.93 0.90 0.85"/><feFuncG type="table" tableValues="0.87 0.80 0.73 0.62 0.50 0.37"/><feFuncB type="table" tableValues="0.89 0.76 0.65 0.52 0.40 0.29"/></feComponentTransfer><feColorMatrix in="n" type="matrix" values="0 0 0 0 1  0 0 0 0 1  0 0 0 0 1  7 0 0 0 -3.25" result="a"/><feComposite in="c" in2="a" operator="in" result="ca"/><feGaussianBlur in="SourceAlpha" stdDeviation="9" result="sa"/><feComposite in="ca" in2="sa" operator="in" result="o"/><feGaussianBlur in="o" stdDeviation="0.6"/></filter>
<filter id="b2warmB" filterUnits="userSpaceOnUse" x="1685" y="233" width="385" height="203" color-interpolation-filters="sRGB"><feTurbulence type="fractalNoise" baseFrequency="0.045 0.06" numOctaves="3" seed="71" result="n"/><feColorMatrix in="n" type="matrix" values="3 0 0 0 -1.5  3 0 0 0 -1.5  3 0 0 0 -1.5  0 0 0 0 1" result="g"/><feComponentTransfer in="g" result="c"><feFuncR type="table" tableValues="0.93 0.94 0.95 0.93 0.90 0.85"/><feFuncG type="table" tableValues="0.87 0.80 0.73 0.62 0.50 0.37"/><feFuncB type="table" tableValues="0.89 0.76 0.65 0.52 0.40 0.29"/></feComponentTransfer><feColorMatrix in="n" type="matrix" values="0 0 0 0 1  0 0 0 0 1  0 0 0 0 1  7 0 0 0 -3.35" result="a"/><feComposite in="c" in2="a" operator="in" result="ca"/><feGaussianBlur in="SourceAlpha" stdDeviation="12" result="sa"/><feComposite in="ca" in2="sa" operator="in" result="o"/><feGaussianBlur in="o" stdDeviation="0.6"/></filter>
</defs>
<rect x="0" y="0" width="2070" height="500" fill="#fff"/>
<rect x="0" y="0" width="5.6" height="500" fill="#f4f4f4"/>
<rect x="161.5" y="217.5" width="922.5" height="170" rx="1.5" fill="none" stroke="#000" stroke-width="1.1" stroke-dasharray="1.1 2.2"/>
<text class="cj" x="702.5" y="249.3" font-size="29.5" fill="#000">标题</text>
<g id="vertebra">
<path d="M18.0 186.0C18.3 189.6 19.2 192.4 20.4 195.6C21.6 198.8 23.8 202.1 25.2 205.0C26.6 207.9 27.2 209.8 28.5 213.0C29.8 216.2 32.4 219.5 32.8 224.0C33.2 228.5 32.0 234.7 31.0 240.0C30.0 245.3 27.8 251.3 27.0 256.0C26.2 260.7 25.7 264.0 26.0 268.0C26.3 272.0 27.3 276.7 29.0 280.0C30.7 283.3 32.8 285.0 36.0 288.0C39.2 291.0 44.0 295.3 48.0 298.0C52.0 300.7 57.2 301.7 60.0 304.0C62.8 306.3 64.0 308.7 65.0 312.0C66.0 315.3 65.2 320.0 66.0 324.0C66.8 328.0 67.7 332.7 70.0 336.0C72.3 339.3 75.0 341.5 80.0 344.0C85.0 346.5 93.3 349.5 100.0 351.0C106.7 352.5 113.3 353.2 120.0 353.0C126.7 352.8 133.3 351.5 140.0 350.0C146.7 348.5 154.0 346.7 160.0 344.0C166.0 341.3 172.2 338.0 176.0 334.0C179.8 330.0 181.7 324.0 183.0 320.0C184.3 316.0 181.2 312.7 184.0 310.0C186.8 307.3 193.3 308.3 200.0 304.0C206.7 299.7 218.7 290.0 224.0 284.0C229.3 278.0 231.3 273.3 232.0 268.0C232.7 262.7 229.3 257.0 228.0 252.0C226.7 247.0 224.3 242.3 224.0 238.0C223.7 233.7 223.3 228.5 226.0 226.0C228.7 223.5 235.3 224.7 240.0 223.0C244.7 221.3 251.3 218.5 254.0 216.0C256.7 213.5 254.7 210.7 256.0 208.0C257.3 205.3 258.0 202.5 262.0 200.0C266.0 197.5 272.3 195.0 280.0 193.0C287.7 191.0 299.3 189.3 308.0 188.0C316.7 186.7 325.2 185.8 332.0 185.0C338.8 184.2 345.5 184.0 349.0 183.5C352.5 183.0 351.3 183.1 353.0 182.0C354.7 180.9 357.3 179.3 359.0 177.0C360.7 174.7 362.2 171.5 363.0 168.0C363.8 164.5 363.8 159.0 363.5 156.0C363.2 153.0 362.6 151.4 361.0 150.0C359.4 148.6 357.5 148.1 354.0 147.5C350.5 146.9 347.0 146.8 340.0 146.5C333.0 146.2 320.7 146.2 312.0 146.0C303.3 145.8 293.7 146.0 288.0 145.0C282.3 144.0 280.2 142.5 278.0 140.0C275.8 137.5 275.3 134.3 275.0 130.0C274.7 125.7 276.0 120.0 276.0 114.0C276.0 108.0 275.5 100.0 275.0 94.0C274.5 88.0 274.0 81.7 272.8 78.0C271.6 74.3 270.1 72.8 268.0 72.0C265.9 71.2 264.0 72.2 260.0 73.0C256.0 73.8 249.3 75.5 244.0 77.0C238.7 78.5 232.7 79.5 228.0 82.0C223.3 84.5 219.0 88.0 216.0 92.0C213.0 96.0 212.3 101.3 210.0 106.0C207.7 110.7 205.0 117.0 202.0 120.0C199.0 123.0 195.7 123.0 192.0 124.0C188.3 125.0 183.3 125.3 180.0 126.0C176.7 126.7 174.7 128.7 172.0 128.0C169.3 127.3 166.7 125.3 164.0 122.0C161.3 118.7 158.0 112.0 156.0 108.0C154.0 104.0 153.0 101.7 152.0 98.0C151.0 94.3 150.7 90.7 150.0 86.0C149.3 81.3 149.0 75.0 148.0 70.0C147.0 65.0 145.7 59.5 144.0 56.0C142.3 52.5 140.7 50.3 138.0 49.0C135.3 47.7 131.7 47.2 128.0 48.0C124.3 48.8 119.3 51.0 116.0 54.0C112.7 57.0 110.2 61.3 108.0 66.0C105.8 70.7 104.6 76.4 103.0 82.0C101.4 87.6 100.4 95.5 98.4 99.6C96.4 103.7 94.4 106.2 91.2 106.8C88.0 107.4 83.2 105.0 79.2 103.2C75.2 101.4 70.8 97.6 67.2 96.0C63.6 94.4 60.4 93.4 57.6 93.6C54.8 93.8 52.6 95.4 50.4 97.2C48.2 99.0 45.8 101.6 44.4 104.4C43.0 107.2 42.2 110.8 42.0 114.0C41.8 117.2 42.4 120.8 43.2 123.6C44.0 126.4 47.2 128.6 46.8 130.8C46.4 133.0 43.0 134.6 40.8 136.8C38.6 139.0 36.0 141.4 33.6 144.0C31.2 146.6 28.4 149.4 26.4 152.4C24.4 155.4 22.9 158.4 21.6 162.0C20.3 165.6 19.3 170.0 18.7 174.0C18.1 178.0 17.7 182.4 18.0 186.0Z" fill="#0b2410"/>
<g clip-path="url(#vclip)">
<rect x="10" y="40" width="360" height="320" fill="url(#vdots)" opacity="0.25"/>
<rect x="10" y="40" width="360" height="320" filter="url(#vnoise)"/>
<g filter="url(#vblur2)" fill="none" stroke="#06160a" stroke-linecap="round">
<path d="M22 196C40 214 80 226 120 226C170 226 210 214 228 196" stroke-width="7" opacity="0.55"/>
<path d="M62 306C90 318 150 320 186 306" stroke-width="6" opacity="0.6"/>
<path d="M128 60C124 80 128 100 140 116" stroke-width="7" opacity="0.5"/>
<path d="M206 122C214 150 232 180 252 206" stroke-width="7" opacity="0.45"/>
<path d="M30 236C26 256 30 276 44 292" stroke-width="6" opacity="0.5"/>
<path d="M70 330C100 350 150 350 180 326" stroke-width="8" opacity="0.45"/>
</g>
<g filter="url(#vblur)" fill="#5fae62">
<ellipse cx="118" cy="166" rx="80" ry="22" opacity="0.25" transform="rotate(-6 118 166)"/>
<ellipse cx="80" cy="250" rx="34" ry="26" opacity="0.22"/>
<ellipse cx="300" cy="166" rx="46" ry="12" opacity="0.2"/>
<ellipse cx="70" cy="118" rx="18" ry="12" opacity="0.22"/>
<ellipse cx="240" cy="110" rx="20" ry="22" opacity="0.18"/>
</g>
</g>
<path d="M18.0 186.0C18.3 189.6 19.2 192.4 20.4 195.6C21.6 198.8 23.8 202.1 25.2 205.0C26.6 207.9 27.2 209.8 28.5 213.0C29.8 216.2 32.4 219.5 32.8 224.0C33.2 228.5 32.0 234.7 31.0 240.0C30.0 245.3 27.8 251.3 27.0 256.0C26.2 260.7 25.7 264.0 26.0 268.0C26.3 272.0 27.3 276.7 29.0 280.0C30.7 283.3 32.8 285.0 36.0 288.0C39.2 291.0 44.0 295.3 48.0 298.0C52.0 300.7 57.2 301.7 60.0 304.0C62.8 306.3 64.0 308.7 65.0 312.0C66.0 315.3 65.2 320.0 66.0 324.0C66.8 328.0 67.7 332.7 70.0 336.0C72.3 339.3 75.0 341.5 80.0 344.0C85.0 346.5 93.3 349.5 100.0 351.0C106.7 352.5 113.3 353.2 120.0 353.0C126.7 352.8 133.3 351.5 140.0 350.0C146.7 348.5 154.0 346.7 160.0 344.0C166.0 341.3 172.2 338.0 176.0 334.0C179.8 330.0 181.7 324.0 183.0 320.0C184.3 316.0 181.2 312.7 184.0 310.0C186.8 307.3 193.3 308.3 200.0 304.0C206.7 299.7 218.7 290.0 224.0 284.0C229.3 278.0 231.3 273.3 232.0 268.0C232.7 262.7 229.3 257.0 228.0 252.0C226.7 247.0 224.3 242.3 224.0 238.0C223.7 233.7 223.3 228.5 226.0 226.0C228.7 223.5 235.3 224.7 240.0 223.0C244.7 221.3 251.3 218.5 254.0 216.0C256.7 213.5 254.7 210.7 256.0 208.0C257.3 205.3 258.0 202.5 262.0 200.0C266.0 197.5 272.3 195.0 280.0 193.0C287.7 191.0 299.3 189.3 308.0 188.0C316.7 186.7 325.2 185.8 332.0 185.0C338.8 184.2 345.5 184.0 349.0 183.5C352.5 183.0 351.3 183.1 353.0 182.0C354.7 180.9 357.3 179.3 359.0 177.0C360.7 174.7 362.2 171.5 363.0 168.0C363.8 164.5 363.8 159.0 363.5 156.0C363.2 153.0 362.6 151.4 361.0 150.0C359.4 148.6 357.5 148.1 354.0 147.5C350.5 146.9 347.0 146.8 340.0 146.5C333.0 146.2 320.7 146.2 312.0 146.0C303.3 145.8 293.7 146.0 288.0 145.0C282.3 144.0 280.2 142.5 278.0 140.0C275.8 137.5 275.3 134.3 275.0 130.0C274.7 125.7 276.0 120.0 276.0 114.0C276.0 108.0 275.5 100.0 275.0 94.0C274.5 88.0 274.0 81.7 272.8 78.0C271.6 74.3 270.1 72.8 268.0 72.0C265.9 71.2 264.0 72.2 260.0 73.0C256.0 73.8 249.3 75.5 244.0 77.0C238.7 78.5 232.7 79.5 228.0 82.0C223.3 84.5 219.0 88.0 216.0 92.0C213.0 96.0 212.3 101.3 210.0 106.0C207.7 110.7 205.0 117.0 202.0 120.0C199.0 123.0 195.7 123.0 192.0 124.0C188.3 125.0 183.3 125.3 180.0 126.0C176.7 126.7 174.7 128.7 172.0 128.0C169.3 127.3 166.7 125.3 164.0 122.0C161.3 118.7 158.0 112.0 156.0 108.0C154.0 104.0 153.0 101.7 152.0 98.0C151.0 94.3 150.7 90.7 150.0 86.0C149.3 81.3 149.0 75.0 148.0 70.0C147.0 65.0 145.7 59.5 144.0 56.0C142.3 52.5 140.7 50.3 138.0 49.0C135.3 47.7 131.7 47.2 128.0 48.0C124.3 48.8 119.3 51.0 116.0 54.0C112.7 57.0 110.2 61.3 108.0 66.0C105.8 70.7 104.6 76.4 103.0 82.0C101.4 87.6 100.4 95.5 98.4 99.6C96.4 103.7 94.4 106.2 91.2 106.8C88.0 107.4 83.2 105.0 79.2 103.2C75.2 101.4 70.8 97.6 67.2 96.0C63.6 94.4 60.4 93.4 57.6 93.6C54.8 93.8 52.6 95.4 50.4 97.2C48.2 99.0 45.8 101.6 44.4 104.4C43.0 107.2 42.2 110.8 42.0 114.0C41.8 117.2 42.4 120.8 43.2 123.6C44.0 126.4 47.2 128.6 46.8 130.8C46.4 133.0 43.0 134.6 40.8 136.8C38.6 139.0 36.0 141.4 33.6 144.0C31.2 146.6 28.4 149.4 26.4 152.4C24.4 155.4 22.9 158.4 21.6 162.0C20.3 165.6 19.3 170.0 18.7 174.0C18.1 178.0 17.7 182.4 18.0 186.0Z" fill="none" stroke="#0d2a13" stroke-width="1" opacity="0.7"/>
<path d="M108.5 152.5C110.5 139 119 131 130 131C142 131 150 140 152.5 154L149 154.5C146 142.5 140 134.5 130.5 134C122.5 134 117 141 114.8 153.5Z" fill="url(#myArc)"/>
<path d="M146.2 154.6L157.4 156.2L152.2 160.2Z" fill="#5b8fd2"/>
<path d="M108 175L153.2 111.6L147.6 107.6L168.8 97L166 120.8L160.4 116.8L115.2 180.2Z" fill="#4472c4"/>
<path d="M155.3 201C155.8 183 166.5 169.8 182.5 169.8C199 169.8 209.5 183 209.8 201L200.4 201C200 186 193.5 175.2 182.5 175.2C172 175.2 164.8 185 163.5 201Z" fill="url(#mxArc)"/>
<path d="M147.2 201.8L166.2 198.6L156 209.6Z" fill="#ff0000"/>
<path d="M115.5 177.2L176.2 189.4L177 184L196.4 200.2L172.2 205.4L173.6 196.8L115.5 185.5Z" fill="#ff0000"/>
<path d="M108.5 178H116.5V250.5H123.5L111.4 273.5L100.5 250.5H108.5Z" fill="#000"/>
<text class="se" x="143" y="85.8" font-size="23" font-weight="bold" font-style="italic" fill="#4472c4" stroke="#4472c4" stroke-width="0.5">M<tspan font-size="16.5" dy="5.6" dx="1.2">y</tspan></text>
<text class="se" x="171.6" y="220" font-size="23" font-weight="bold" font-style="italic" fill="#ff0000" stroke="#ff0000" stroke-width="0.5">M<tspan font-size="16.5" dy="5.2" dx="0.6">x</tspan></text>
<text class="se" x="75.5" y="298" font-size="23" font-weight="bold" font-style="italic" fill="#000" stroke="#000" stroke-width="0.5">F<tspan font-size="15" dy="4" dx="0.5">z</tspan></text>
</g>
<g id="cage">
<rect x="432" y="205" width="288" height="60" fill="#fff"/>
<rect x="600" y="150" width="120" height="120" fill="#fff"/>
<path d="M439.0 150.0L448.0 136.0L472.0 119.0L500.0 99.0L540.0 87.0L580.0 83.0L612.0 85.0L644.0 89.6L666.0 96.0L685.0 107.0L701.0 120.0L710.0 131.0L715.0 142.0L716.5 202.0L713.0 240.0L708.0 260.0L700.0 274.0L688.0 286.0L672.0 296.0L656.0 306.0L636.0 314.0L608.0 318.0L580.0 322.0L552.0 320.0L526.0 314.0L510.0 309.0L494.0 301.0L481.0 288.4L470.0 269.0L460.4 246.8L452.4 224.4L444.4 198.8L438.0 179.6Z" fill="url(#cySideG)"/>
<path d="M438.0 166.0L438.0 169.2L438.2 169.2L438.2 172.4L438.4 172.4L438.4 175.6L438.6 175.6L438.6 178.8L438.8 178.8L438.8 182.0L439.0 182.0L439.0 185.2L440.2 185.2L440.2 188.3L441.3 188.3L441.3 191.5L442.5 191.5L442.5 194.7L443.7 194.7L443.7 197.8L444.8 197.8L444.8 201.0L446.0 201.0L446.0 204.3L448.7 204.3L448.7 207.7L451.3 207.7L451.3 211.0L454.0 211.0L454.0 214.3L456.7 214.3L456.7 217.7L459.3 217.7L459.3 221.0L462.0 221.0L462.0 222.5L465.2 222.5L465.2 224.0L468.4 224.0L468.4 225.5L471.6 225.5L471.6 227.0L474.8 227.0L474.8 228.5L478.0 228.5L478.0 230.0L481.2 230.0L481.2 231.5L484.4 231.5L484.4 233.0L487.6 233.0L487.6 234.5L490.8 234.5L490.8 236.0L494.0 236.0L494.0 236.4L497.2 236.4L497.2 236.8L500.4 236.8L500.4 237.2L503.6 237.2L503.6 237.6L506.8 237.6L506.8 238.0L510.0 238.0L510.0 238.4L513.2 238.4L513.2 238.8L516.4 238.8L516.4 239.2L519.6 239.2L519.6 239.6L522.8 239.6L522.8 240.0L526.0 240.0L526.0 240.0L529.2 240.0L529.2 240.0L532.3 240.0L532.3 240.0L535.5 240.0L535.5 240.0L538.7 240.0L538.7 240.0L541.8 240.0L541.8 240.0L545.0 240.0L545.0 240.0L548.2 240.0L548.2 240.0L551.3 240.0L551.3 240.0L554.5 240.0L554.5 240.0L557.7 240.0L557.7 240.0L560.8 240.0L560.8 240.0L564.0 240.0L564.0 239.8L567.2 239.8L567.2 239.5L570.5 239.5L570.5 239.2L573.8 239.2L573.8 239.0L577.0 239.0L577.0 238.8L580.2 238.8L580.2 238.5L583.5 238.5L583.5 238.2L586.8 238.2L586.8 238.0L590.0 238.0L590.0 237.4L593.2 237.4L593.2 236.8L596.5 236.8L596.5 236.1L599.8 236.1L599.8 235.5L603.0 235.5L603.0 234.9L606.2 234.9L606.2 234.2L609.5 234.2L609.5 233.6L612.8 233.6L612.8 233.0L616.0 233.0L616.0 232.1L619.1 232.1L619.1 231.2L622.2 231.2L622.2 230.3L625.3 230.3L625.3 229.4L628.4 229.4L628.4 228.6L631.6 228.6L631.6 227.7L634.7 227.7L634.7 226.8L637.8 226.8L637.8 225.9L640.9 225.9L640.9 225.0L644.0 225.0L644.0 223.8L647.2 223.8L647.2 222.5L650.4 222.5L650.4 221.2L653.6 221.2L653.6 220.0L656.8 220.0L656.8 218.8L660.0 218.8L660.0 217.5L663.2 217.5L663.2 216.2L666.4 216.2L666.4 215.0L669.6 215.0L669.6 213.0L672.8 213.0L672.8 211.0L676.0 211.0L676.0 209.0L679.2 209.0L679.2 207.0L682.4 207.0L682.4 205.0L685.6 205.0L685.6 201.8L688.8 201.8L688.8 198.6L692.0 198.6L692.0 195.4L695.2 195.4L695.2 192.2L698.4 192.2L698.4 189.0L701.6 189.0L701.6 186.0L703.7 186.0L703.7 183.0L705.7 183.0L705.7 180.0L707.8 180.0L707.8 177.0L709.9 177.0L709.9 174.0L711.9 174.0L711.9 171.0L714.0 171.0L714.0 167.8L714.8 167.8L714.8 164.5L715.5 164.5L715.5 161.2L716.2 161.2L716.2 158.0L717.0 158.0L716.5 202.0L715.9 202.0L715.9 208.3L715.3 208.3L715.3 214.7L714.8 214.7L714.8 221.0L714.2 221.0L714.2 227.3L713.6 227.3L713.6 233.7L713.0 233.7L713.0 240.0L711.3 240.0L711.3 246.7L709.7 246.7L709.7 253.3L708.0 253.3L708.0 260.0L704.0 260.0L704.0 267.0L700.0 267.0L700.0 274.0L694.0 274.0L694.0 280.0L688.0 280.0L688.0 286.0L680.0 286.0L680.0 291.0L672.0 291.0L672.0 296.0L664.0 296.0L664.0 301.0L656.0 301.0L656.0 306.0L649.3 306.0L649.3 308.7L642.7 308.7L642.7 311.3L636.0 311.3L636.0 314.0L630.4 314.0L630.4 314.8L624.8 314.8L624.8 315.6L619.2 315.6L619.2 316.4L613.6 316.4L613.6 317.2L608.0 317.2L608.0 318.0L602.4 318.0L602.4 318.8L596.8 318.8L596.8 319.6L591.2 319.6L591.2 320.4L585.6 320.4L585.6 321.2L580.0 321.2L580.0 322.0L574.4 322.0L574.4 321.6L568.8 321.6L568.8 321.2L563.2 321.2L563.2 320.8L557.6 320.8L557.6 320.4L552.0 320.4L552.0 320.0L545.5 320.0L545.5 318.5L539.0 318.5L539.0 317.0L532.5 317.0L532.5 315.5L526.0 315.5L526.0 314.0L518.0 314.0L518.0 311.5L510.0 311.5L510.0 309.0L502.0 309.0L502.0 305.0L494.0 305.0L494.0 301.0L487.5 301.0L487.5 294.7L481.0 294.7L481.0 288.4L477.3 288.4L477.3 281.9L473.7 281.9L473.7 275.5L470.0 275.5L470.0 269.0L466.8 269.0L466.8 261.6L463.6 261.6L463.6 254.2L460.4 254.2L460.4 246.8L458.4 246.8L458.4 241.2L456.4 241.2L456.4 235.6L454.4 235.6L454.4 230.0L452.4 230.0L452.4 224.4L450.4 224.4L450.4 218.0L448.4 218.0L448.4 211.6L446.4 211.6L446.4 205.2L444.4 205.2L444.4 198.8L442.3 198.8L442.3 192.4L440.1 192.4L440.1 186.0L438.0 186.0L438.0 179.6Z" fill="url(#cySideG)"/>
<g clip-path="url(#cySide)">
<path d="M438.0 166.0C438.2 168.7 437.7 176.2 439.0 182.0C440.3 187.8 442.2 194.5 446.0 201.0C449.8 207.5 454.0 215.2 462.0 221.0C470.0 226.8 483.3 232.8 494.0 236.0C504.7 239.2 514.3 239.3 526.0 240.0C537.7 240.7 553.3 240.3 564.0 240.0C574.7 239.7 581.3 239.2 590.0 238.0C598.7 236.8 607.0 235.2 616.0 233.0C625.0 230.8 635.1 228.0 644.0 225.0C652.9 222.0 662.7 218.3 669.6 215.0C676.5 211.7 680.3 209.3 685.6 205.0C690.9 200.7 696.9 194.7 701.6 189.0C706.3 183.3 711.4 176.2 714.0 171.0C716.6 165.8 716.5 160.2 717.0 158.0" transform="translate(0.1 3.6)" fill="none" stroke="#04202c" stroke-width="0.6" opacity="0.6"/>
<path d="M438.0 166.0C438.2 168.7 437.7 176.2 439.0 182.0C440.3 187.8 442.2 194.5 446.0 201.0C449.8 207.5 454.0 215.2 462.0 221.0C470.0 226.8 483.3 232.8 494.0 236.0C504.7 239.2 514.3 239.3 526.0 240.0C537.7 240.7 553.3 240.3 564.0 240.0C574.7 239.7 581.3 239.2 590.0 238.0C598.7 236.8 607.0 235.2 616.0 233.0C625.0 230.8 635.1 228.0 644.0 225.0C652.9 222.0 662.7 218.3 669.6 215.0C676.5 211.7 680.3 209.3 685.6 205.0C690.9 200.7 696.9 194.7 701.6 189.0C706.3 183.3 711.4 176.2 714.0 171.0C716.6 165.8 716.5 160.2 717.0 158.0" transform="translate(0.2 7.2)" fill="none" stroke="#04202c" stroke-width="0.6" opacity="0.6"/>
<path d="M438.0 166.0C438.2 168.7 437.7 176.2 439.0 182.0C440.3 187.8 442.2 194.5 446.0 201.0C449.8 207.5 454.0 215.2 462.0 221.0C470.0 226.8 483.3 232.8 494.0 236.0C504.7 239.2 514.3 239.3 526.0 240.0C537.7 240.7 553.3 240.3 564.0 240.0C574.7 239.7 581.3 239.2 590.0 238.0C598.7 236.8 607.0 235.2 616.0 233.0C625.0 230.8 635.1 228.0 644.0 225.0C652.9 222.0 662.7 218.3 669.6 215.0C676.5 211.7 680.3 209.3 685.6 205.0C690.9 200.7 696.9 194.7 701.6 189.0C706.3 183.3 711.4 176.2 714.0 171.0C716.6 165.8 716.5 160.2 717.0 158.0" transform="translate(0.4 10.8)" fill="none" stroke="#04202c" stroke-width="0.6" opacity="0.6"/>
<path d="M438.0 166.0C438.2 168.7 437.7 176.2 439.0 182.0C440.3 187.8 442.2 194.5 446.0 201.0C449.8 207.5 454.0 215.2 462.0 221.0C470.0 226.8 483.3 232.8 494.0 236.0C504.7 239.2 514.3 239.3 526.0 240.0C537.7 240.7 553.3 240.3 564.0 240.0C574.7 239.7 581.3 239.2 590.0 238.0C598.7 236.8 607.0 235.2 616.0 233.0C625.0 230.8 635.1 228.0 644.0 225.0C652.9 222.0 662.7 218.3 669.6 215.0C676.5 211.7 680.3 209.3 685.6 205.0C690.9 200.7 696.9 194.7 701.6 189.0C706.3 183.3 711.4 176.2 714.0 171.0C716.6 165.8 716.5 160.2 717.0 158.0" transform="translate(0.5 14.4)" fill="none" stroke="#04202c" stroke-width="0.6" opacity="0.6"/>
<path d="M438.0 166.0C438.2 168.7 437.7 176.2 439.0 182.0C440.3 187.8 442.2 194.5 446.0 201.0C449.8 207.5 454.0 215.2 462.0 221.0C470.0 226.8 483.3 232.8 494.0 236.0C504.7 239.2 514.3 239.3 526.0 240.0C537.7 240.7 553.3 240.3 564.0 240.0C574.7 239.7 581.3 239.2 590.0 238.0C598.7 236.8 607.0 235.2 616.0 233.0C625.0 230.8 635.1 228.0 644.0 225.0C652.9 222.0 662.7 218.3 669.6 215.0C676.5 211.7 680.3 209.3 685.6 205.0C690.9 200.7 696.9 194.7 701.6 189.0C706.3 183.3 711.4 176.2 714.0 171.0C716.6 165.8 716.5 160.2 717.0 158.0" transform="translate(0.6 18.0)" fill="none" stroke="#04202c" stroke-width="0.6" opacity="0.6"/>
<path d="M438.0 166.0C438.2 168.7 437.7 176.2 439.0 182.0C440.3 187.8 442.2 194.5 446.0 201.0C449.8 207.5 454.0 215.2 462.0 221.0C470.0 226.8 483.3 232.8 494.0 236.0C504.7 239.2 514.3 239.3 526.0 240.0C537.7 240.7 553.3 240.3 564.0 240.0C574.7 239.7 581.3 239.2 590.0 238.0C598.7 236.8 607.0 235.2 616.0 233.0C625.0 230.8 635.1 228.0 644.0 225.0C652.9 222.0 662.7 218.3 669.6 215.0C676.5 211.7 680.3 209.3 685.6 205.0C690.9 200.7 696.9 194.7 701.6 189.0C706.3 183.3 711.4 176.2 714.0 171.0C716.6 165.8 716.5 160.2 717.0 158.0" transform="translate(0.7 21.6)" fill="none" stroke="#04202c" stroke-width="0.6" opacity="0.6"/>
<path d="M438.0 166.0C438.2 168.7 437.7 176.2 439.0 182.0C440.3 187.8 442.2 194.5 446.0 201.0C449.8 207.5 454.0 215.2 462.0 221.0C470.0 226.8 483.3 232.8 494.0 236.0C504.7 239.2 514.3 239.3 526.0 240.0C537.7 240.7 553.3 240.3 564.0 240.0C574.7 239.7 581.3 239.2 590.0 238.0C598.7 236.8 607.0 235.2 616.0 233.0C625.0 230.8 635.1 228.0 644.0 225.0C652.9 222.0 662.7 218.3 669.6 215.0C676.5 211.7 680.3 209.3 685.6 205.0C690.9 200.7 696.9 194.7 701.6 189.0C706.3 183.3 711.4 176.2 714.0 171.0C716.6 165.8 716.5 160.2 717.0 158.0" transform="translate(0.8 25.2)" fill="none" stroke="#04202c" stroke-width="0.6" opacity="0.6"/>
<path d="M438.0 166.0C438.2 168.7 437.7 176.2 439.0 182.0C440.3 187.8 442.2 194.5 446.0 201.0C449.8 207.5 454.0 215.2 462.0 221.0C470.0 226.8 483.3 232.8 494.0 236.0C504.7 239.2 514.3 239.3 526.0 240.0C537.7 240.7 553.3 240.3 564.0 240.0C574.7 239.7 581.3 239.2 590.0 238.0C598.7 236.8 607.0 235.2 616.0 233.0C625.0 230.8 635.1 228.0 644.0 225.0C652.9 222.0 662.7 218.3 669.6 215.0C676.5 211.7 680.3 209.3 685.6 205.0C690.9 200.7 696.9 194.7 701.6 189.0C706.3 183.3 711.4 176.2 714.0 171.0C716.6 165.8 716.5 160.2 717.0 158.0" transform="translate(1.0 28.8)" fill="none" stroke="#04202c" stroke-width="0.6" opacity="0.6"/>
<path d="M438.0 166.0C438.2 168.7 437.7 176.2 439.0 182.0C440.3 187.8 442.2 194.5 446.0 201.0C449.8 207.5 454.0 215.2 462.0 221.0C470.0 226.8 483.3 232.8 494.0 236.0C504.7 239.2 514.3 239.3 526.0 240.0C537.7 240.7 553.3 240.3 564.0 240.0C574.7 239.7 581.3 239.2 590.0 238.0C598.7 236.8 607.0 235.2 616.0 233.0C625.0 230.8 635.1 228.0 644.0 225.0C652.9 222.0 662.7 218.3 669.6 215.0C676.5 211.7 680.3 209.3 685.6 205.0C690.9 200.7 696.9 194.7 701.6 189.0C706.3 183.3 711.4 176.2 714.0 171.0C716.6 165.8 716.5 160.2 717.0 158.0" transform="translate(1.1 32.4)" fill="none" stroke="#04202c" stroke-width="0.6" opacity="0.6"/>
<path d="M438.0 166.0C438.2 168.7 437.7 176.2 439.0 182.0C440.3 187.8 442.2 194.5 446.0 201.0C449.8 207.5 454.0 215.2 462.0 221.0C470.0 226.8 483.3 232.8 494.0 236.0C504.7 239.2 514.3 239.3 526.0 240.0C537.7 240.7 553.3 240.3 564.0 240.0C574.7 239.7 581.3 239.2 590.0 238.0C598.7 236.8 607.0 235.2 616.0 233.0C625.0 230.8 635.1 228.0 644.0 225.0C652.9 222.0 662.7 218.3 669.6 215.0C676.5 211.7 680.3 209.3 685.6 205.0C690.9 200.7 696.9 194.7 701.6 189.0C706.3 183.3 711.4 176.2 714.0 171.0C716.6 165.8 716.5 160.2 717.0 158.0" transform="translate(1.2 36.0)" fill="none" stroke="#04202c" stroke-width="0.6" opacity="0.6"/>
<path d="M438.0 166.0C438.2 168.7 437.7 176.2 439.0 182.0C440.3 187.8 442.2 194.5 446.0 201.0C449.8 207.5 454.0 215.2 462.0 221.0C470.0 226.8 483.3 232.8 494.0 236.0C504.7 239.2 514.3 239.3 526.0 240.0C537.7 240.7 553.3 240.3 564.0 240.0C574.7 239.7 581.3 239.2 590.0 238.0C598.7 236.8 607.0 235.2 616.0 233.0C625.0 230.8 635.1 228.0 644.0 225.0C652.9 222.0 662.7 218.3 669.6 215.0C676.5 211.7 680.3 209.3 685.6 205.0C690.9 200.7 696.9 194.7 701.6 189.0C706.3 183.3 711.4 176.2 714.0 171.0C716.6 165.8 716.5 160.2 717.0 158.0" transform="translate(1.3 39.6)" fill="none" stroke="#04202c" stroke-width="0.6" opacity="0.6"/>
<path d="M438.0 166.0C438.2 168.7 437.7 176.2 439.0 182.0C440.3 187.8 442.2 194.5 446.0 201.0C449.8 207.5 454.0 215.2 462.0 221.0C470.0 226.8 483.3 232.8 494.0 236.0C504.7 239.2 514.3 239.3 526.0 240.0C537.7 240.7 553.3 240.3 564.0 240.0C574.7 239.7 581.3 239.2 590.0 238.0C598.7 236.8 607.0 235.2 616.0 233.0C625.0 230.8 635.1 228.0 644.0 225.0C652.9 222.0 662.7 218.3 669.6 215.0C676.5 211.7 680.3 209.3 685.6 205.0C690.9 200.7 696.9 194.7 701.6 189.0C706.3 183.3 711.4 176.2 714.0 171.0C716.6 165.8 716.5 160.2 717.0 158.0" transform="translate(1.4 43.2)" fill="none" stroke="#04202c" stroke-width="0.6" opacity="0.6"/>
<path d="M438.0 166.0C438.2 168.7 437.7 176.2 439.0 182.0C440.3 187.8 442.2 194.5 446.0 201.0C449.8 207.5 454.0 215.2 462.0 221.0C470.0 226.8 483.3 232.8 494.0 236.0C504.7 239.2 514.3 239.3 526.0 240.0C537.7 240.7 553.3 240.3 564.0 240.0C574.7 239.7 581.3 239.2 590.0 238.0C598.7 236.8 607.0 235.2 616.0 233.0C625.0 230.8 635.1 228.0 644.0 225.0C652.9 222.0 662.7 218.3 669.6 215.0C676.5 211.7 680.3 209.3 685.6 205.0C690.9 200.7 696.9 194.7 701.6 189.0C706.3 183.3 711.4 176.2 714.0 171.0C716.6 165.8 716.5 160.2 717.0 158.0" transform="translate(1.6 46.8)" fill="none" stroke="#04202c" stroke-width="0.6" opacity="0.6"/>
<path d="M438.0 166.0C438.2 168.7 437.7 176.2 439.0 182.0C440.3 187.8 442.2 194.5 446.0 201.0C449.8 207.5 454.0 215.2 462.0 221.0C470.0 226.8 483.3 232.8 494.0 236.0C504.7 239.2 514.3 239.3 526.0 240.0C537.7 240.7 553.3 240.3 564.0 240.0C574.7 239.7 581.3 239.2 590.0 238.0C598.7 236.8 607.0 235.2 616.0 233.0C625.0 230.8 635.1 228.0 644.0 225.0C652.9 222.0 662.7 218.3 669.6 215.0C676.5 211.7 680.3 209.3 685.6 205.0C690.9 200.7 696.9 194.7 701.6 189.0C706.3 183.3 711.4 176.2 714.0 171.0C716.6 165.8 716.5 160.2 717.0 158.0" transform="translate(1.7 50.4)" fill="none" stroke="#04202c" stroke-width="0.6" opacity="0.6"/>
<path d="M438.0 166.0C438.2 168.7 437.7 176.2 439.0 182.0C440.3 187.8 442.2 194.5 446.0 201.0C449.8 207.5 454.0 215.2 462.0 221.0C470.0 226.8 483.3 232.8 494.0 236.0C504.7 239.2 514.3 239.3 526.0 240.0C537.7 240.7 553.3 240.3 564.0 240.0C574.7 239.7 581.3 239.2 590.0 238.0C598.7 236.8 607.0 235.2 616.0 233.0C625.0 230.8 635.1 228.0 644.0 225.0C652.9 222.0 662.7 218.3 669.6 215.0C676.5 211.7 680.3 209.3 685.6 205.0C690.9 200.7 696.9 194.7 701.6 189.0C706.3 183.3 711.4 176.2 714.0 171.0C716.6 165.8 716.5 160.2 717.0 158.0" transform="translate(1.8 54.0)" fill="none" stroke="#04202c" stroke-width="0.6" opacity="0.6"/>
<path d="M438.0 166.0C438.2 168.7 437.7 176.2 439.0 182.0C440.3 187.8 442.2 194.5 446.0 201.0C449.8 207.5 454.0 215.2 462.0 221.0C470.0 226.8 483.3 232.8 494.0 236.0C504.7 239.2 514.3 239.3 526.0 240.0C537.7 240.7 553.3 240.3 564.0 240.0C574.7 239.7 581.3 239.2 590.0 238.0C598.7 236.8 607.0 235.2 616.0 233.0C625.0 230.8 635.1 228.0 644.0 225.0C652.9 222.0 662.7 218.3 669.6 215.0C676.5 211.7 680.3 209.3 685.6 205.0C690.9 200.7 696.9 194.7 701.6 189.0C706.3 183.3 711.4 176.2 714.0 171.0C716.6 165.8 716.5 160.2 717.0 158.0" transform="translate(1.9 57.6)" fill="none" stroke="#04202c" stroke-width="0.6" opacity="0.6"/>
<path d="M438.0 166.0C438.2 168.7 437.7 176.2 439.0 182.0C440.3 187.8 442.2 194.5 446.0 201.0C449.8 207.5 454.0 215.2 462.0 221.0C470.0 226.8 483.3 232.8 494.0 236.0C504.7 239.2 514.3 239.3 526.0 240.0C537.7 240.7 553.3 240.3 564.0 240.0C574.7 239.7 581.3 239.2 590.0 238.0C598.7 236.8 607.0 235.2 616.0 233.0C625.0 230.8 635.1 228.0 644.0 225.0C652.9 222.0 662.7 218.3 669.6 215.0C676.5 211.7 680.3 209.3 685.6 205.0C690.9 200.7 696.9 194.7 701.6 189.0C706.3 183.3 711.4 176.2 714.0 171.0C716.6 165.8 716.5 160.2 717.0 158.0" transform="translate(2.0 61.2)" fill="none" stroke="#04202c" stroke-width="0.6" opacity="0.6"/>
<path d="M438.0 166.0C438.2 168.7 437.7 176.2 439.0 182.0C440.3 187.8 442.2 194.5 446.0 201.0C449.8 207.5 454.0 215.2 462.0 221.0C470.0 226.8 483.3 232.8 494.0 236.0C504.7 239.2 514.3 239.3 526.0 240.0C537.7 240.7 553.3 240.3 564.0 240.0C574.7 239.7 581.3 239.2 590.0 238.0C598.7 236.8 607.0 235.2 616.0 233.0C625.0 230.8 635.1 228.0 644.0 225.0C652.9 222.0 662.7 218.3 669.6 215.0C676.5 211.7 680.3 209.3 685.6 205.0C690.9 200.7 696.9 194.7 701.6 189.0C706.3 183.3 711.4 176.2 714.0 171.0C716.6 165.8 716.5 160.2 717.0 158.0" transform="translate(2.2 64.8)" fill="none" stroke="#04202c" stroke-width="0.6" opacity="0.6"/>
<path d="M438.0 166.0C438.2 168.7 437.7 176.2 439.0 182.0C440.3 187.8 442.2 194.5 446.0 201.0C449.8 207.5 454.0 215.2 462.0 221.0C470.0 226.8 483.3 232.8 494.0 236.0C504.7 239.2 514.3 239.3 526.0 240.0C537.7 240.7 553.3 240.3 564.0 240.0C574.7 239.7 581.3 239.2 590.0 238.0C598.7 236.8 607.0 235.2 616.0 233.0C625.0 230.8 635.1 228.0 644.0 225.0C652.9 222.0 662.7 218.3 669.6 215.0C676.5 211.7 680.3 209.3 685.6 205.0C690.9 200.7 696.9 194.7 701.6 189.0C706.3 183.3 711.4 176.2 714.0 171.0C716.6 165.8 716.5 160.2 717.0 158.0" transform="translate(2.3 68.4)" fill="none" stroke="#04202c" stroke-width="0.6" opacity="0.6"/>
<path d="M438.0 166.0C438.2 168.7 437.7 176.2 439.0 182.0C440.3 187.8 442.2 194.5 446.0 201.0C449.8 207.5 454.0 215.2 462.0 221.0C470.0 226.8 483.3 232.8 494.0 236.0C504.7 239.2 514.3 239.3 526.0 240.0C537.7 240.7 553.3 240.3 564.0 240.0C574.7 239.7 581.3 239.2 590.0 238.0C598.7 236.8 607.0 235.2 616.0 233.0C625.0 230.8 635.1 228.0 644.0 225.0C652.9 222.0 662.7 218.3 669.6 215.0C676.5 211.7 680.3 209.3 685.6 205.0C690.9 200.7 696.9 194.7 701.6 189.0C706.3 183.3 711.4 176.2 714.0 171.0C716.6 165.8 716.5 160.2 717.0 158.0" transform="translate(2.4 72.0)" fill="none" stroke="#04202c" stroke-width="0.6" opacity="0.6"/>
<path d="M438.0 166.0C438.2 168.7 437.7 176.2 439.0 182.0C440.3 187.8 442.2 194.5 446.0 201.0C449.8 207.5 454.0 215.2 462.0 221.0C470.0 226.8 483.3 232.8 494.0 236.0C504.7 239.2 514.3 239.3 526.0 240.0C537.7 240.7 553.3 240.3 564.0 240.0C574.7 239.7 581.3 239.2 590.0 238.0C598.7 236.8 607.0 235.2 616.0 233.0C625.0 230.8 635.1 228.0 644.0 225.0C652.9 222.0 662.7 218.3 669.6 215.0C676.5 211.7 680.3 209.3 685.6 205.0C690.9 200.7 696.9 194.7 701.6 189.0C706.3 183.3 711.4 176.2 714.0 171.0C716.6 165.8 716.5 160.2 717.0 158.0" transform="translate(2.5 75.6)" fill="none" stroke="#04202c" stroke-width="0.6" opacity="0.6"/>
<path d="M438.0 166.0C438.2 168.7 437.7 176.2 439.0 182.0C440.3 187.8 442.2 194.5 446.0 201.0C449.8 207.5 454.0 215.2 462.0 221.0C470.0 226.8 483.3 232.8 494.0 236.0C504.7 239.2 514.3 239.3 526.0 240.0C537.7 240.7 553.3 240.3 564.0 240.0C574.7 239.7 581.3 239.2 590.0 238.0C598.7 236.8 607.0 235.2 616.0 233.0C625.0 230.8 635.1 228.0 644.0 225.0C652.9 222.0 662.7 218.3 669.6 215.0C676.5 211.7 680.3 209.3 685.6 205.0C690.9 200.7 696.9 194.7 701.6 189.0C706.3 183.3 711.4 176.2 714.0 171.0C716.6 165.8 716.5 160.2 717.0 158.0" transform="translate(2.6 79.2)" fill="none" stroke="#04202c" stroke-width="0.6" opacity="0.6"/>
<path d="M438.0 166.0C438.2 168.7 437.7 176.2 439.0 182.0C440.3 187.8 442.2 194.5 446.0 201.0C449.8 207.5 454.0 215.2 462.0 221.0C470.0 226.8 483.3 232.8 494.0 236.0C504.7 239.2 514.3 239.3 526.0 240.0C537.7 240.7 553.3 240.3 564.0 240.0C574.7 239.7 581.3 239.2 590.0 238.0C598.7 236.8 607.0 235.2 616.0 233.0C625.0 230.8 635.1 228.0 644.0 225.0C652.9 222.0 662.7 218.3 669.6 215.0C676.5 211.7 680.3 209.3 685.6 205.0C690.9 200.7 696.9 194.7 701.6 189.0C706.3 183.3 711.4 176.2 714.0 171.0C716.6 165.8 716.5 160.2 717.0 158.0" transform="translate(2.8 82.8)" fill="none" stroke="#04202c" stroke-width="0.6" opacity="0.6"/>
<path d="M438.0 166.0C438.2 168.7 437.7 176.2 439.0 182.0C440.3 187.8 442.2 194.5 446.0 201.0C449.8 207.5 454.0 215.2 462.0 221.0C470.0 226.8 483.3 232.8 494.0 236.0C504.7 239.2 514.3 239.3 526.0 240.0C537.7 240.7 553.3 240.3 564.0 240.0C574.7 239.7 581.3 239.2 590.0 238.0C598.7 236.8 607.0 235.2 616.0 233.0C625.0 230.8 635.1 228.0 644.0 225.0C652.9 222.0 662.7 218.3 669.6 215.0C676.5 211.7 680.3 209.3 685.6 205.0C690.9 200.7 696.9 194.7 701.6 189.0C706.3 183.3 711.4 176.2 714.0 171.0C716.6 165.8 716.5 160.2 717.0 158.0" transform="translate(2.9 86.4)" fill="none" stroke="#04202c" stroke-width="0.6" opacity="0.6"/>
<path d="M438.0 166.0C438.2 168.7 437.7 176.2 439.0 182.0C440.3 187.8 442.2 194.5 446.0 201.0C449.8 207.5 454.0 215.2 462.0 221.0C470.0 226.8 483.3 232.8 494.0 236.0C504.7 239.2 514.3 239.3 526.0 240.0C537.7 240.7 553.3 240.3 564.0 240.0C574.7 239.7 581.3 239.2 590.0 238.0C598.7 236.8 607.0 235.2 616.0 233.0C625.0 230.8 635.1 228.0 644.0 225.0C652.9 222.0 662.7 218.3 669.6 215.0C676.5 211.7 680.3 209.3 685.6 205.0C690.9 200.7 696.9 194.7 701.6 189.0C706.3 183.3 711.4 176.2 714.0 171.0C716.6 165.8 716.5 160.2 717.0 158.0" transform="translate(3.0 90.0)" fill="none" stroke="#04202c" stroke-width="0.6" opacity="0.6"/>
<path d="M438.0 166.0C438.2 168.7 437.7 176.2 439.0 182.0C440.3 187.8 442.2 194.5 446.0 201.0C449.8 207.5 454.0 215.2 462.0 221.0C470.0 226.8 483.3 232.8 494.0 236.0C504.7 239.2 514.3 239.3 526.0 240.0C537.7 240.7 553.3 240.3 564.0 240.0C574.7 239.7 581.3 239.2 590.0 238.0C598.7 236.8 607.0 235.2 616.0 233.0C625.0 230.8 635.1 228.0 644.0 225.0C652.9 222.0 662.7 218.3 669.6 215.0C676.5 211.7 680.3 209.3 685.6 205.0C690.9 200.7 696.9 194.7 701.6 189.0C706.3 183.3 711.4 176.2 714.0 171.0C716.6 165.8 716.5 160.2 717.0 158.0" transform="translate(3.1 93.6)" fill="none" stroke="#04202c" stroke-width="0.6" opacity="0.6"/>
<path d="M438.0 166.0C438.2 168.7 437.7 176.2 439.0 182.0C440.3 187.8 442.2 194.5 446.0 201.0C449.8 207.5 454.0 215.2 462.0 221.0C470.0 226.8 483.3 232.8 494.0 236.0C504.7 239.2 514.3 239.3 526.0 240.0C537.7 240.7 553.3 240.3 564.0 240.0C574.7 239.7 581.3 239.2 590.0 238.0C598.7 236.8 607.0 235.2 616.0 233.0C625.0 230.8 635.1 228.0 644.0 225.0C652.9 222.0 662.7 218.3 669.6 215.0C676.5 211.7 680.3 209.3 685.6 205.0C690.9 200.7 696.9 194.7 701.6 189.0C706.3 183.3 711.4 176.2 714.0 171.0C716.6 165.8 716.5 160.2 717.0 158.0" transform="translate(3.2 97.2)" fill="none" stroke="#04202c" stroke-width="0.6" opacity="0.6"/>
<path d="M438.0 166.0C438.2 168.7 437.7 176.2 439.0 182.0C440.3 187.8 442.2 194.5 446.0 201.0C449.8 207.5 454.0 215.2 462.0 221.0C470.0 226.8 483.3 232.8 494.0 236.0C504.7 239.2 514.3 239.3 526.0 240.0C537.7 240.7 553.3 240.3 564.0 240.0C574.7 239.7 581.3 239.2 590.0 238.0C598.7 236.8 607.0 235.2 616.0 233.0C625.0 230.8 635.1 228.0 644.0 225.0C652.9 222.0 662.7 218.3 669.6 215.0C676.5 211.7 680.3 209.3 685.6 205.0C690.9 200.7 696.9 194.7 701.6 189.0C706.3 183.3 711.4 176.2 714.0 171.0C716.6 165.8 716.5 160.2 717.0 158.0" transform="translate(3.4 100.8)" fill="none" stroke="#04202c" stroke-width="0.6" opacity="0.6"/>
<path d="M438.0 166.0C438.2 168.7 437.7 176.2 439.0 182.0C440.3 187.8 442.2 194.5 446.0 201.0C449.8 207.5 454.0 215.2 462.0 221.0C470.0 226.8 483.3 232.8 494.0 236.0C504.7 239.2 514.3 239.3 526.0 240.0C537.7 240.7 553.3 240.3 564.0 240.0C574.7 239.7 581.3 239.2 590.0 238.0C598.7 236.8 607.0 235.2 616.0 233.0C625.0 230.8 635.1 228.0 644.0 225.0C652.9 222.0 662.7 218.3 669.6 215.0C676.5 211.7 680.3 209.3 685.6 205.0C690.9 200.7 696.9 194.7 701.6 189.0C706.3 183.3 711.4 176.2 714.0 171.0C716.6 165.8 716.5 160.2 717.0 158.0" transform="translate(3.5 104.4)" fill="none" stroke="#04202c" stroke-width="0.6" opacity="0.6"/>
<path d="M438.0 166.0C438.2 168.7 437.7 176.2 439.0 182.0C440.3 187.8 442.2 194.5 446.0 201.0C449.8 207.5 454.0 215.2 462.0 221.0C470.0 226.8 483.3 232.8 494.0 236.0C504.7 239.2 514.3 239.3 526.0 240.0C537.7 240.7 553.3 240.3 564.0 240.0C574.7 239.7 581.3 239.2 590.0 238.0C598.7 236.8 607.0 235.2 616.0 233.0C625.0 230.8 635.1 228.0 644.0 225.0C652.9 222.0 662.7 218.3 669.6 215.0C676.5 211.7 680.3 209.3 685.6 205.0C690.9 200.7 696.9 194.7 701.6 189.0C706.3 183.3 711.4 176.2 714.0 171.0C716.6 165.8 716.5 160.2 717.0 158.0" transform="translate(3.6 108.0)" fill="none" stroke="#04202c" stroke-width="0.6" opacity="0.6"/>
<path d="M438.0 166.0C438.2 168.7 437.7 176.2 439.0 182.0C440.3 187.8 442.2 194.5 446.0 201.0C449.8 207.5 454.0 215.2 462.0 221.0C470.0 226.8 483.3 232.8 494.0 236.0C504.7 239.2 514.3 239.3 526.0 240.0C537.7 240.7 553.3 240.3 564.0 240.0C574.7 239.7 581.3 239.2 590.0 238.0C598.7 236.8 607.0 235.2 616.0 233.0C625.0 230.8 635.1 228.0 644.0 225.0C652.9 222.0 662.7 218.3 669.6 215.0C676.5 211.7 680.3 209.3 685.6 205.0C690.9 200.7 696.9 194.7 701.6 189.0C706.3 183.3 711.4 176.2 714.0 171.0C716.6 165.8 716.5 160.2 717.0 158.0" transform="translate(3.7 111.6)" fill="none" stroke="#04202c" stroke-width="0.6" opacity="0.6"/>
<path d="M438.0 166.0C438.2 168.7 437.7 176.2 439.0 182.0C440.3 187.8 442.2 194.5 446.0 201.0C449.8 207.5 454.0 215.2 462.0 221.0C470.0 226.8 483.3 232.8 494.0 236.0C504.7 239.2 514.3 239.3 526.0 240.0C537.7 240.7 553.3 240.3 564.0 240.0C574.7 239.7 581.3 239.2 590.0 238.0C598.7 236.8 607.0 235.2 616.0 233.0C625.0 230.8 635.1 228.0 644.0 225.0C652.9 222.0 662.7 218.3 669.6 215.0C676.5 211.7 680.3 209.3 685.6 205.0C690.9 200.7 696.9 194.7 701.6 189.0C706.3 183.3 711.4 176.2 714.0 171.0C716.6 165.8 716.5 160.2 717.0 158.0" transform="translate(3.8 115.2)" fill="none" stroke="#04202c" stroke-width="0.6" opacity="0.6"/>
<path d="M438.0 166.0C438.2 168.7 437.7 176.2 439.0 182.0C440.3 187.8 442.2 194.5 446.0 201.0C449.8 207.5 454.0 215.2 462.0 221.0C470.0 226.8 483.3 232.8 494.0 236.0C504.7 239.2 514.3 239.3 526.0 240.0C537.7 240.7 553.3 240.3 564.0 240.0C574.7 239.7 581.3 239.2 590.0 238.0C598.7 236.8 607.0 235.2 616.0 233.0C625.0 230.8 635.1 228.0 644.0 225.0C652.9 222.0 662.7 218.3 669.6 215.0C676.5 211.7 680.3 209.3 685.6 205.0C690.9 200.7 696.9 194.7 701.6 189.0C706.3 183.3 711.4 176.2 714.0 171.0C716.6 165.8 716.5 160.2 717.0 158.0" transform="translate(4.0 118.8)" fill="none" stroke="#04202c" stroke-width="0.6" opacity="0.6"/>
<path d="M436.0 150L454.0 330M442.6 150L460.6 330M449.2 150L467.2 330M455.8 150L473.8 330M462.4 150L480.4 330M469.0 150L487.0 330M475.6 150L493.6 330M482.2 150L500.2 330M488.8 150L506.8 330M495.4 150L513.4 330M502.0 150L520.0 330M508.6 150L526.6 330M515.2 150L533.2 330M521.8 150L539.8 330M528.4 150L546.4 330M535.0 150L553.0 330M541.6 150L559.6 330M548.2 150L566.2 330M554.8 150L572.8 330M561.4 150L579.4 330M568.0 150L586.0 330M574.6 150L592.6 330M581.2 150L599.2 330M587.8 150L605.8 330M594.4 150L612.4 330M601.0 150L619.0 330M607.6 150L625.6 330M614.2 150L632.2 330M620.8 150L638.8 330M627.4 150L645.4 330M634.0 150L652.0 330M640.6 150L658.6 330M647.2 150L665.2 330M653.8 150L671.8 330M660.4 150L678.4 330M667.0 150L685.0 330M673.6 150L691.6 330M680.2 150L698.2 330M686.8 150L704.8 330M693.4 150L711.4 330M700.0 150L718.0 330M706.6 150L724.6 330M713.2 150L731.2 330M719.8 150L737.8 330" fill="none" stroke="#052838" stroke-width="0.7" opacity="0.7"/>
<path d="M568.0 160L585.0 330" stroke="#02141c" stroke-width="1.2" opacity="0.60" fill="none"/>
<path d="M583.0 160L600.0 330" stroke="#02141c" stroke-width="1.4" opacity="0.60" fill="none"/>
<path d="M598.0 160L615.0 330" stroke="#02141c" stroke-width="1.5" opacity="0.65" fill="none"/>
<path d="M613.0 160L630.0 330" stroke="#02141c" stroke-width="1.6" opacity="0.70" fill="none"/>
<path d="M627.0 160L644.0 330" stroke="#02141c" stroke-width="1.7" opacity="0.70" fill="none"/>
<path d="M640.0 160L657.0 330" stroke="#02141c" stroke-width="1.8" opacity="0.75" fill="none"/>
<path d="M652.0 160L669.0 330" stroke="#02141c" stroke-width="1.9" opacity="0.75" fill="none"/>
<path d="M663.0 160L680.0 330" stroke="#02141c" stroke-width="2.0" opacity="0.80" fill="none"/>
<path d="M673.0 160L690.0 330" stroke="#02141c" stroke-width="2.0" opacity="0.80" fill="none"/>
<path d="M682.0 160L699.0 330" stroke="#02141c" stroke-width="2.0" opacity="0.80" fill="none"/>
<path d="M689.5 160L706.5 330" stroke="#02141c" stroke-width="2.0" opacity="0.80" fill="none"/>
<path d="M695.5 160L712.5 330" stroke="#02141c" stroke-width="2.4" opacity="0.90" fill="none"/>
<path d="M716.6 142V206L712 246" stroke="#01080c" stroke-width="2" opacity="0.9" fill="none"/>
<path d="M452.0 160L469.0 330" stroke="#02141c" stroke-width="1.2" opacity="0.40" fill="none"/>
<path d="M462.0 160L479.0 330" stroke="#02141c" stroke-width="1.2" opacity="0.40" fill="none"/>
<path d="M473.0 160L490.0 330" stroke="#02141c" stroke-width="1.2" opacity="0.40" fill="none"/>
<path d="M486.0 160L503.0 330" stroke="#02141c" stroke-width="1.2" opacity="0.40" fill="none"/>
<path d="M500.0 160L517.0 330" stroke="#02141c" stroke-width="1.2" opacity="0.35" fill="none"/>
<path d="M565.0 160L582.0 330" stroke="#02141c" stroke-width="1.6" opacity="0.60" fill="none"/>
</g>
<path d="M438.0 166.0L438.5 166.0L438.5 160.0L439.1 160.0L439.1 154.0L439.6 154.0L439.6 148.0L443.8 148.0L443.8 141.5L448.0 141.5L448.0 135.0L454.0 135.0L454.0 130.5L460.0 130.5L460.0 126.0L466.0 126.0L466.0 121.5L472.0 121.5L472.0 117.0L477.6 117.0L477.6 113.0L483.2 113.0L483.2 109.0L488.8 109.0L488.8 105.0L494.4 105.0L494.4 101.0L500.0 101.0L500.0 97.0L505.7 97.0L505.7 95.3L511.4 95.3L511.4 93.6L517.1 93.6L517.1 91.9L522.9 91.9L522.9 90.1L528.6 90.1L528.6 88.4L534.3 88.4L534.3 86.7L540.0 86.7L540.0 85.0L545.7 85.0L545.7 84.4L551.4 84.4L551.4 83.9L557.1 83.9L557.1 83.3L562.9 83.3L562.9 82.7L568.6 82.7L568.6 82.1L574.3 82.1L574.3 81.6L580.0 81.6L580.0 81.0L586.4 81.0L586.4 81.4L592.8 81.4L592.8 81.8L599.2 81.8L599.2 82.2L605.6 82.2L605.6 82.6L612.0 82.6L612.0 83.0L618.4 83.0L618.4 83.9L624.8 83.9L624.8 84.8L631.2 84.8L631.2 85.8L637.6 85.8L637.6 86.7L644.0 86.7L644.0 87.6L651.5 87.6L651.5 89.7L658.9 89.7L658.9 91.9L666.4 91.9L666.4 94.0L672.8 94.0L672.8 97.7L679.2 97.7L679.2 101.3L685.6 101.3L685.6 105.0L693.6 105.0L693.6 111.5L701.6 111.5L701.6 118.0L711.0 118.0L711.0 129.0L716.5 129.0L716.5 140.0L716.7 140.0L716.7 146.0L716.8 146.0L716.8 152.0L717.0 152.0L717.0 158.0L715.5 158.0L715.5 164.5L714.0 164.5L714.0 171.0L709.9 171.0L709.9 177.0L705.7 177.0L705.7 183.0L701.6 183.0L701.6 189.0L693.6 189.0L693.6 197.0L685.6 197.0L685.6 205.0L677.6 205.0L677.6 210.0L669.6 210.0L669.6 215.0L663.2 215.0L663.2 217.5L656.8 217.5L656.8 220.0L650.4 220.0L650.4 222.5L644.0 222.5L644.0 225.0L638.4 225.0L638.4 226.6L632.8 226.6L632.8 228.2L627.2 228.2L627.2 229.8L621.6 229.8L621.6 231.4L616.0 231.4L616.0 233.0L609.5 233.0L609.5 234.2L603.0 234.2L603.0 235.5L596.5 235.5L596.5 236.8L590.0 236.8L590.0 238.0L583.5 238.0L583.5 238.5L577.0 238.5L577.0 239.0L570.5 239.0L570.5 239.5L564.0 239.5L564.0 240.0L557.7 240.0L557.7 240.0L551.3 240.0L551.3 240.0L545.0 240.0L545.0 240.0L538.7 240.0L538.7 240.0L532.3 240.0L532.3 240.0L526.0 240.0L526.0 240.0L519.6 240.0L519.6 239.2L513.2 239.2L513.2 238.4L506.8 238.4L506.8 237.6L500.4 237.6L500.4 236.8L494.0 236.8L494.0 236.0L487.6 236.0L487.6 233.0L481.2 233.0L481.2 230.0L474.8 230.0L474.8 227.0L468.4 227.0L468.4 224.0L462.0 224.0L462.0 221.0L456.7 221.0L456.7 214.3L451.3 214.3L451.3 207.7L446.0 207.7L446.0 201.0L443.7 201.0L443.7 194.7L441.3 194.7L441.3 188.3L439.0 188.3L439.0 182.0L438.5 182.0L438.5 174.0L438.0 174.0L438.0 166.0Z" fill="#16b9ea"/>
<g clip-path="url(#cyZ0)"><path d="M438.0 166.0L438.5 166.0L438.5 160.0L439.1 160.0L439.1 154.0L439.6 154.0L439.6 148.0L443.8 148.0L443.8 141.5L448.0 141.5L448.0 135.0L454.0 135.0L454.0 130.5L460.0 130.5L460.0 126.0L466.0 126.0L466.0 121.5L472.0 121.5L472.0 117.0L477.6 117.0L477.6 113.0L483.2 113.0L483.2 109.0L488.8 109.0L488.8 105.0L494.4 105.0L494.4 101.0L500.0 101.0L500.0 97.0L505.7 97.0L505.7 95.3L511.4 95.3L511.4 93.6L517.1 93.6L517.1 91.9L522.9 91.9L522.9 90.1L528.6 90.1L528.6 88.4L534.3 88.4L534.3 86.7L540.0 86.7L540.0 85.0L545.7 85.0L545.7 84.4L551.4 84.4L551.4 83.9L557.1 83.9L557.1 83.3L562.9 83.3L562.9 82.7L568.6 82.7L568.6 82.1L574.3 82.1L574.3 81.6L580.0 81.6L580.0 81.0L586.4 81.0L586.4 81.4L592.8 81.4L592.8 81.8L599.2 81.8L599.2 82.2L605.6 82.2L605.6 82.6L612.0 82.6L612.0 83.0L618.4 83.0L618.4 83.9L624.8 83.9L624.8 84.8L631.2 84.8L631.2 85.8L637.6 85.8L637.6 86.7L644.0 86.7L644.0 87.6L651.5 87.6L651.5 89.7L658.9 89.7L658.9 91.9L666.4 91.9L666.4 94.0L672.8 94.0L672.8 97.7L679.2 97.7L679.2 101.3L685.6 101.3L685.6 105.0L693.6 105.0L693.6 111.5L701.6 111.5L701.6 118.0L711.0 118.0L711.0 129.0L716.5 129.0L716.5 140.0L716.7 140.0L716.7 146.0L716.8 146.0L716.8 152.0L717.0 152.0L717.0 158.0L715.5 158.0L715.5 164.5L714.0 164.5L714.0 171.0L709.9 171.0L709.9 177.0L705.7 177.0L705.7 183.0L701.6 183.0L701.6 189.0L693.6 189.0L693.6 197.0L685.6 197.0L685.6 205.0L677.6 205.0L677.6 210.0L669.6 210.0L669.6 215.0L663.2 215.0L663.2 217.5L656.8 217.5L656.8 220.0L650.4 220.0L650.4 222.5L644.0 222.5L644.0 225.0L638.4 225.0L638.4 226.6L632.8 226.6L632.8 228.2L627.2 228.2L627.2 229.8L621.6 229.8L621.6 231.4L616.0 231.4L616.0 233.0L609.5 233.0L609.5 234.2L603.0 234.2L603.0 235.5L596.5 235.5L596.5 236.8L590.0 236.8L590.0 238.0L583.5 238.0L583.5 238.5L577.0 238.5L577.0 239.0L570.5 239.0L570.5 239.5L564.0 239.5L564.0 240.0L557.7 240.0L557.7 240.0L551.3 240.0L551.3 240.0L545.0 240.0L545.0 240.0L538.7 240.0L538.7 240.0L532.3 240.0L532.3 240.0L526.0 240.0L526.0 240.0L519.6 240.0L519.6 239.2L513.2 239.2L513.2 238.4L506.8 238.4L506.8 237.6L500.4 237.6L500.4 236.8L494.0 236.8L494.0 236.0L487.6 236.0L487.6 233.0L481.2 233.0L481.2 230.0L474.8 230.0L474.8 227.0L468.4 227.0L468.4 224.0L462.0 224.0L462.0 221.0L456.7 221.0L456.7 214.3L451.3 214.3L451.3 207.7L446.0 207.7L446.0 201.0L443.7 201.0L443.7 194.7L441.3 194.7L441.3 188.3L439.0 188.3L439.0 182.0L438.5 182.0L438.5 174.0L438.0 174.0L438.0 166.0Z" fill="url(#cyL0)"/><path d="M438.0 166.0L438.5 166.0L438.5 160.0L439.1 160.0L439.1 154.0L439.6 154.0L439.6 148.0L443.8 148.0L443.8 141.5L448.0 141.5L448.0 135.0L454.0 135.0L454.0 130.5L460.0 130.5L460.0 126.0L466.0 126.0L466.0 121.5L472.0 121.5L472.0 117.0L477.6 117.0L477.6 113.0L483.2 113.0L483.2 109.0L488.8 109.0L488.8 105.0L494.4 105.0L494.4 101.0L500.0 101.0L500.0 97.0L505.7 97.0L505.7 95.3L511.4 95.3L511.4 93.6L517.1 93.6L517.1 91.9L522.9 91.9L522.9 90.1L528.6 90.1L528.6 88.4L534.3 88.4L534.3 86.7L540.0 86.7L540.0 85.0L545.7 85.0L545.7 84.4L551.4 84.4L551.4 83.9L557.1 83.9L557.1 83.3L562.9 83.3L562.9 82.7L568.6 82.7L568.6 82.1L574.3 82.1L574.3 81.6L580.0 81.6L580.0 81.0L586.4 81.0L586.4 81.4L592.8 81.4L592.8 81.8L599.2 81.8L599.2 82.2L605.6 82.2L605.6 82.6L612.0 82.6L612.0 83.0L618.4 83.0L618.4 83.9L624.8 83.9L624.8 84.8L631.2 84.8L631.2 85.8L637.6 85.8L637.6 86.7L644.0 86.7L644.0 87.6L651.5 87.6L651.5 89.7L658.9 89.7L658.9 91.9L666.4 91.9L666.4 94.0L672.8 94.0L672.8 97.7L679.2 97.7L679.2 101.3L685.6 101.3L685.6 105.0L693.6 105.0L693.6 111.5L701.6 111.5L701.6 118.0L711.0 118.0L711.0 129.0L716.5 129.0L716.5 140.0L716.7 140.0L716.7 146.0L716.8 146.0L716.8 152.0L717.0 152.0L717.0 158.0L715.5 158.0L715.5 164.5L714.0 164.5L714.0 171.0L709.9 171.0L709.9 177.0L705.7 177.0L705.7 183.0L701.6 183.0L701.6 189.0L693.6 189.0L693.6 197.0L685.6 197.0L685.6 205.0L677.6 205.0L677.6 210.0L669.6 210.0L669.6 215.0L663.2 215.0L663.2 217.5L656.8 217.5L656.8 220.0L650.4 220.0L650.4 222.5L644.0 222.5L644.0 225.0L638.4 225.0L638.4 226.6L632.8 226.6L632.8 228.2L627.2 228.2L627.2 229.8L621.6 229.8L621.6 231.4L616.0 231.4L616.0 233.0L609.5 233.0L609.5 234.2L603.0 234.2L603.0 235.5L596.5 235.5L596.5 236.8L590.0 236.8L590.0 238.0L583.5 238.0L583.5 238.5L577.0 238.5L577.0 239.0L570.5 239.0L570.5 239.5L564.0 239.5L564.0 240.0L557.7 240.0L557.7 240.0L551.3 240.0L551.3 240.0L545.0 240.0L545.0 240.0L538.7 240.0L538.7 240.0L532.3 240.0L532.3 240.0L526.0 240.0L526.0 240.0L519.6 240.0L519.6 239.2L513.2 239.2L513.2 238.4L506.8 238.4L506.8 237.6L500.4 237.6L500.4 236.8L494.0 236.8L494.0 236.0L487.6 236.0L487.6 233.0L481.2 233.0L481.2 230.0L474.8 230.0L474.8 227.0L468.4 227.0L468.4 224.0L462.0 224.0L462.0 221.0L456.7 221.0L456.7 214.3L451.3 214.3L451.3 207.7L446.0 207.7L446.0 201.0L443.7 201.0L443.7 194.7L441.3 194.7L441.3 188.3L439.0 188.3L439.0 182.0L438.5 182.0L438.5 174.0L438.0 174.0L438.0 166.0Z" fill="url(#cyD0)"/></g>
<g clip-path="url(#cyZ1)"><path d="M438.0 166.0L438.5 166.0L438.5 160.0L439.1 160.0L439.1 154.0L439.6 154.0L439.6 148.0L443.8 148.0L443.8 141.5L448.0 141.5L448.0 135.0L454.0 135.0L454.0 130.5L460.0 130.5L460.0 126.0L466.0 126.0L466.0 121.5L472.0 121.5L472.0 117.0L477.6 117.0L477.6 113.0L483.2 113.0L483.2 109.0L488.8 109.0L488.8 105.0L494.4 105.0L494.4 101.0L500.0 101.0L500.0 97.0L505.7 97.0L505.7 95.3L511.4 95.3L511.4 93.6L517.1 93.6L517.1 91.9L522.9 91.9L522.9 90.1L528.6 90.1L528.6 88.4L534.3 88.4L534.3 86.7L540.0 86.7L540.0 85.0L545.7 85.0L545.7 84.4L551.4 84.4L551.4 83.9L557.1 83.9L557.1 83.3L562.9 83.3L562.9 82.7L568.6 82.7L568.6 82.1L574.3 82.1L574.3 81.6L580.0 81.6L580.0 81.0L586.4 81.0L586.4 81.4L592.8 81.4L592.8 81.8L599.2 81.8L599.2 82.2L605.6 82.2L605.6 82.6L612.0 82.6L612.0 83.0L618.4 83.0L618.4 83.9L624.8 83.9L624.8 84.8L631.2 84.8L631.2 85.8L637.6 85.8L637.6 86.7L644.0 86.7L644.0 87.6L651.5 87.6L651.5 89.7L658.9 89.7L658.9 91.9L666.4 91.9L666.4 94.0L672.8 94.0L672.8 97.7L679.2 97.7L679.2 101.3L685.6 101.3L685.6 105.0L693.6 105.0L693.6 111.5L701.6 111.5L701.6 118.0L711.0 118.0L711.0 129.0L716.5 129.0L716.5 140.0L716.7 140.0L716.7 146.0L716.8 146.0L716.8 152.0L717.0 152.0L717.0 158.0L715.5 158.0L715.5 164.5L714.0 164.5L714.0 171.0L709.9 171.0L709.9 177.0L705.7 177.0L705.7 183.0L701.6 183.0L701.6 189.0L693.6 189.0L693.6 197.0L685.6 197.0L685.6 205.0L677.6 205.0L677.6 210.0L669.6 210.0L669.6 215.0L663.2 215.0L663.2 217.5L656.8 217.5L656.8 220.0L650.4 220.0L650.4 222.5L644.0 222.5L644.0 225.0L638.4 225.0L638.4 226.6L632.8 226.6L632.8 228.2L627.2 228.2L627.2 229.8L621.6 229.8L621.6 231.4L616.0 231.4L616.0 233.0L609.5 233.0L609.5 234.2L603.0 234.2L603.0 235.5L596.5 235.5L596.5 236.8L590.0 236.8L590.0 238.0L583.5 238.0L583.5 238.5L577.0 238.5L577.0 239.0L570.5 239.0L570.5 239.5L564.0 239.5L564.0 240.0L557.7 240.0L557.7 240.0L551.3 240.0L551.3 240.0L545.0 240.0L545.0 240.0L538.7 240.0L538.7 240.0L532.3 240.0L532.3 240.0L526.0 240.0L526.0 240.0L519.6 240.0L519.6 239.2L513.2 239.2L513.2 238.4L506.8 238.4L506.8 237.6L500.4 237.6L500.4 236.8L494.0 236.8L494.0 236.0L487.6 236.0L487.6 233.0L481.2 233.0L481.2 230.0L474.8 230.0L474.8 227.0L468.4 227.0L468.4 224.0L462.0 224.0L462.0 221.0L456.7 221.0L456.7 214.3L451.3 214.3L451.3 207.7L446.0 207.7L446.0 201.0L443.7 201.0L443.7 194.7L441.3 194.7L441.3 188.3L439.0 188.3L439.0 182.0L438.5 182.0L438.5 174.0L438.0 174.0L438.0 166.0Z" fill="url(#cyL1)"/><path d="M438.0 166.0L438.5 166.0L438.5 160.0L439.1 160.0L439.1 154.0L439.6 154.0L439.6 148.0L443.8 148.0L443.8 141.5L448.0 141.5L448.0 135.0L454.0 135.0L454.0 130.5L460.0 130.5L460.0 126.0L466.0 126.0L466.0 121.5L472.0 121.5L472.0 117.0L477.6 117.0L477.6 113.0L483.2 113.0L483.2 109.0L488.8 109.0L488.8 105.0L494.4 105.0L494.4 101.0L500.0 101.0L500.0 97.0L505.7 97.0L505.7 95.3L511.4 95.3L511.4 93.6L517.1 93.6L517.1 91.9L522.9 91.9L522.9 90.1L528.6 90.1L528.6 88.4L534.3 88.4L534.3 86.7L540.0 86.7L540.0 85.0L545.7 85.0L545.7 84.4L551.4 84.4L551.4 83.9L557.1 83.9L557.1 83.3L562.9 83.3L562.9 82.7L568.6 82.7L568.6 82.1L574.3 82.1L574.3 81.6L580.0 81.6L580.0 81.0L586.4 81.0L586.4 81.4L592.8 81.4L592.8 81.8L599.2 81.8L599.2 82.2L605.6 82.2L605.6 82.6L612.0 82.6L612.0 83.0L618.4 83.0L618.4 83.9L624.8 83.9L624.8 84.8L631.2 84.8L631.2 85.8L637.6 85.8L637.6 86.7L644.0 86.7L644.0 87.6L651.5 87.6L651.5 89.7L658.9 89.7L658.9 91.9L666.4 91.9L666.4 94.0L672.8 94.0L672.8 97.7L679.2 97.7L679.2 101.3L685.6 101.3L685.6 105.0L693.6 105.0L693.6 111.5L701.6 111.5L701.6 118.0L711.0 118.0L711.0 129.0L716.5 129.0L716.5 140.0L716.7 140.0L716.7 146.0L716.8 146.0L716.8 152.0L717.0 152.0L717.0 158.0L715.5 158.0L715.5 164.5L714.0 164.5L714.0 171.0L709.9 171.0L709.9 177.0L705.7 177.0L705.7 183.0L701.6 183.0L701.6 189.0L693.6 189.0L693.6 197.0L685.6 197.0L685.6 205.0L677.6 205.0L677.6 210.0L669.6 210.0L669.6 215.0L663.2 215.0L663.2 217.5L656.8 217.5L656.8 220.0L650.4 220.0L650.4 222.5L644.0 222.5L644.0 225.0L638.4 225.0L638.4 226.6L632.8 226.6L632.8 228.2L627.2 228.2L627.2 229.8L621.6 229.8L621.6 231.4L616.0 231.4L616.0 233.0L609.5 233.0L609.5 234.2L603.0 234.2L603.0 235.5L596.5 235.5L596.5 236.8L590.0 236.8L590.0 238.0L583.5 238.0L583.5 238.5L577.0 238.5L577.0 239.0L570.5 239.0L570.5 239.5L564.0 239.5L564.0 240.0L557.7 240.0L557.7 240.0L551.3 240.0L551.3 240.0L545.0 240.0L545.0 240.0L538.7 240.0L538.7 240.0L532.3 240.0L532.3 240.0L526.0 240.0L526.0 240.0L519.6 240.0L519.6 239.2L513.2 239.2L513.2 238.4L506.8 238.4L506.8 237.6L500.4 237.6L500.4 236.8L494.0 236.8L494.0 236.0L487.6 236.0L487.6 233.0L481.2 233.0L481.2 230.0L474.8 230.0L474.8 227.0L468.4 227.0L468.4 224.0L462.0 224.0L462.0 221.0L456.7 221.0L456.7 214.3L451.3 214.3L451.3 207.7L446.0 207.7L446.0 201.0L443.7 201.0L443.7 194.7L441.3 194.7L441.3 188.3L439.0 188.3L439.0 182.0L438.5 182.0L438.5 174.0L438.0 174.0L438.0 166.0Z" fill="url(#cyD1)"/></g>
<g clip-path="url(#cyZ2)"><path d="M438.0 166.0L438.5 166.0L438.5 160.0L439.1 160.0L439.1 154.0L439.6 154.0L439.6 148.0L443.8 148.0L443.8 141.5L448.0 141.5L448.0 135.0L454.0 135.0L454.0 130.5L460.0 130.5L460.0 126.0L466.0 126.0L466.0 121.5L472.0 121.5L472.0 117.0L477.6 117.0L477.6 113.0L483.2 113.0L483.2 109.0L488.8 109.0L488.8 105.0L494.4 105.0L494.4 101.0L500.0 101.0L500.0 97.0L505.7 97.0L505.7 95.3L511.4 95.3L511.4 93.6L517.1 93.6L517.1 91.9L522.9 91.9L522.9 90.1L528.6 90.1L528.6 88.4L534.3 88.4L534.3 86.7L540.0 86.7L540.0 85.0L545.7 85.0L545.7 84.4L551.4 84.4L551.4 83.9L557.1 83.9L557.1 83.3L562.9 83.3L562.9 82.7L568.6 82.7L568.6 82.1L574.3 82.1L574.3 81.6L580.0 81.6L580.0 81.0L586.4 81.0L586.4 81.4L592.8 81.4L592.8 81.8L599.2 81.8L599.2 82.2L605.6 82.2L605.6 82.6L612.0 82.6L612.0 83.0L618.4 83.0L618.4 83.9L624.8 83.9L624.8 84.8L631.2 84.8L631.2 85.8L637.6 85.8L637.6 86.7L644.0 86.7L644.0 87.6L651.5 87.6L651.5 89.7L658.9 89.7L658.9 91.9L666.4 91.9L666.4 94.0L672.8 94.0L672.8 97.7L679.2 97.7L679.2 101.3L685.6 101.3L685.6 105.0L693.6 105.0L693.6 111.5L701.6 111.5L701.6 118.0L711.0 118.0L711.0 129.0L716.5 129.0L716.5 140.0L716.7 140.0L716.7 146.0L716.8 146.0L716.8 152.0L717.0 152.0L717.0 158.0L715.5 158.0L715.5 164.5L714.0 164.5L714.0 171.0L709.9 171.0L709.9 177.0L705.7 177.0L705.7 183.0L701.6 183.0L701.6 189.0L693.6 189.0L693.6 197.0L685.6 197.0L685.6 205.0L677.6 205.0L677.6 210.0L669.6 210.0L669.6 215.0L663.2 215.0L663.2 217.5L656.8 217.5L656.8 220.0L650.4 220.0L650.4 222.5L644.0 222.5L644.0 225.0L638.4 225.0L638.4 226.6L632.8 226.6L632.8 228.2L627.2 228.2L627.2 229.8L621.6 229.8L621.6 231.4L616.0 231.4L616.0 233.0L609.5 233.0L609.5 234.2L603.0 234.2L603.0 235.5L596.5 235.5L596.5 236.8L590.0 236.8L590.0 238.0L583.5 238.0L583.5 238.5L577.0 238.5L577.0 239.0L570.5 239.0L570.5 239.5L564.0 239.5L564.0 240.0L557.7 240.0L557.7 240.0L551.3 240.0L551.3 240.0L545.0 240.0L545.0 240.0L538.7 240.0L538.7 240.0L532.3 240.0L532.3 240.0L526.0 240.0L526.0 240.0L519.6 240.0L519.6 239.2L513.2 239.2L513.2 238.4L506.8 238.4L506.8 237.6L500.4 237.6L500.4 236.8L494.0 236.8L494.0 236.0L487.6 236.0L487.6 233.0L481.2 233.0L481.2 230.0L474.8 230.0L474.8 227.0L468.4 227.0L468.4 224.0L462.0 224.0L462.0 221.0L456.7 221.0L456.7 214.3L451.3 214.3L451.3 207.7L446.0 207.7L446.0 201.0L443.7 201.0L443.7 194.7L441.3 194.7L441.3 188.3L439.0 188.3L439.0 182.0L438.5 182.0L438.5 174.0L438.0 174.0L438.0 166.0Z" fill="url(#cyL2)"/><path d="M438.0 166.0L438.5 166.0L438.5 160.0L439.1 160.0L439.1 154.0L439.6 154.0L439.6 148.0L443.8 148.0L443.8 141.5L448.0 141.5L448.0 135.0L454.0 135.0L454.0 130.5L460.0 130.5L460.0 126.0L466.0 126.0L466.0 121.5L472.0 121.5L472.0 117.0L477.6 117.0L477.6 113.0L483.2 113.0L483.2 109.0L488.8 109.0L488.8 105.0L494.4 105.0L494.4 101.0L500.0 101.0L500.0 97.0L505.7 97.0L505.7 95.3L511.4 95.3L511.4 93.6L517.1 93.6L517.1 91.9L522.9 91.9L522.9 90.1L528.6 90.1L528.6 88.4L534.3 88.4L534.3 86.7L540.0 86.7L540.0 85.0L545.7 85.0L545.7 84.4L551.4 84.4L551.4 83.9L557.1 83.9L557.1 83.3L562.9 83.3L562.9 82.7L568.6 82.7L568.6 82.1L574.3 82.1L574.3 81.6L580.0 81.6L580.0 81.0L586.4 81.0L586.4 81.4L592.8 81.4L592.8 81.8L599.2 81.8L599.2 82.2L605.6 82.2L605.6 82.6L612.0 82.6L612.0 83.0L618.4 83.0L618.4 83.9L624.8 83.9L624.8 84.8L631.2 84.8L631.2 85.8L637.6 85.8L637.6 86.7L644.0 86.7L644.0 87.6L651.5 87.6L651.5 89.7L658.9 89.7L658.9 91.9L666.4 91.9L666.4 94.0L672.8 94.0L672.8 97.7L679.2 97.7L679.2 101.3L685.6 101.3L685.6 105.0L693.6 105.0L693.6 111.5L701.6 111.5L701.6 118.0L711.0 118.0L711.0 129.0L716.5 129.0L716.5 140.0L716.7 140.0L716.7 146.0L716.8 146.0L716.8 152.0L717.0 152.0L717.0 158.0L715.5 158.0L715.5 164.5L714.0 164.5L714.0 171.0L709.9 171.0L709.9 177.0L705.7 177.0L705.7 183.0L701.6 183.0L701.6 189.0L693.6 189.0L693.6 197.0L685.6 197.0L685.6 205.0L677.6 205.0L677.6 210.0L669.6 210.0L669.6 215.0L663.2 215.0L663.2 217.5L656.8 217.5L656.8 220.0L650.4 220.0L650.4 222.5L644.0 222.5L644.0 225.0L638.4 225.0L638.4 226.6L632.8 226.6L632.8 228.2L627.2 228.2L627.2 229.8L621.6 229.8L621.6 231.4L616.0 231.4L616.0 233.0L609.5 233.0L609.5 234.2L603.0 234.2L603.0 235.5L596.5 235.5L596.5 236.8L590.0 236.8L590.0 238.0L583.5 238.0L583.5 238.5L577.0 238.5L577.0 239.0L570.5 239.0L570.5 239.5L564.0 239.5L564.0 240.0L557.7 240.0L557.7 240.0L551.3 240.0L551.3 240.0L545.0 240.0L545.0 240.0L538.7 240.0L538.7 240.0L532.3 240.0L532.3 240.0L526.0 240.0L526.0 240.0L519.6 240.0L519.6 239.2L513.2 239.2L513.2 238.4L506.8 238.4L506.8 237.6L500.4 237.6L500.4 236.8L494.0 236.8L494.0 236.0L487.6 236.0L487.6 233.0L481.2 233.0L481.2 230.0L474.8 230.0L474.8 227.0L468.4 227.0L468.4 224.0L462.0 224.0L462.0 221.0L456.7 221.0L456.7 214.3L451.3 214.3L451.3 207.7L446.0 207.7L446.0 201.0L443.7 201.0L443.7 194.7L441.3 194.7L441.3 188.3L439.0 188.3L439.0 182.0L438.5 182.0L438.5 174.0L438.0 174.0L438.0 166.0Z" fill="url(#cyD2)"/></g>
<path d="M508.0 153.0L510.0 153.0L510.0 148.0L512.0 148.0L512.0 143.0L518.0 143.0L518.0 139.0L524.0 139.0L524.0 135.0L529.3 135.0L529.3 132.7L534.7 132.7L534.7 130.3L540.0 130.3L540.0 128.0L545.0 128.0L545.0 126.5L550.0 126.5L550.0 125.0L555.0 125.0L555.0 123.5L560.0 123.5L560.0 122.0L564.8 122.0L564.8 121.6L569.6 121.6L569.6 121.2L574.4 121.2L574.4 120.8L579.2 120.8L579.2 120.4L584.0 120.4L584.0 120.0L589.0 120.0L589.0 120.8L594.0 120.8L594.0 121.5L599.0 121.5L599.0 122.2L604.0 122.2L604.0 123.0L609.3 123.0L609.3 125.3L614.7 125.3L614.7 127.7L620.0 127.7L620.0 130.0L624.7 130.0L624.7 133.3L629.3 133.3L629.3 136.7L634.0 136.7L634.0 140.0L637.0 140.0L637.0 145.5L640.0 145.5L640.0 151.0L638.0 151.0L638.0 156.5L636.0 156.5L636.0 162.0L630.0 162.0L630.0 167.0L624.0 167.0L624.0 172.0L619.3 172.0L619.3 174.7L614.7 174.7L614.7 177.3L610.0 177.3L610.0 180.0L605.5 180.0L605.5 181.8L601.0 181.8L601.0 183.5L596.5 183.5L596.5 185.2L592.0 185.2L592.0 187.0L587.2 187.0L587.2 188.0L582.4 188.0L582.4 189.0L577.6 189.0L577.6 190.0L572.8 190.0L572.8 191.0L568.0 191.0L568.0 192.0L563.0 192.0L563.0 191.5L558.0 191.5L558.0 191.0L553.0 191.0L553.0 190.5L548.0 190.5L548.0 190.0L543.5 190.0L543.5 188.0L539.0 188.0L539.0 186.0L534.5 186.0L534.5 184.0L530.0 184.0L530.0 182.0L525.3 182.0L525.3 178.0L520.7 178.0L520.7 174.0L516.0 174.0L516.0 170.0L513.3 170.0L513.3 164.3L510.7 164.3L510.7 158.7L508.0 158.7L508.0 153.0Z" fill="#d8dcd9" stroke="#0a5a78" stroke-width="0.7"/>
<g clip-path="url(#cyZ0)"><path d="M508.0 153.0L510.0 153.0L510.0 148.0L512.0 148.0L512.0 143.0L518.0 143.0L518.0 139.0L524.0 139.0L524.0 135.0L529.3 135.0L529.3 132.7L534.7 132.7L534.7 130.3L540.0 130.3L540.0 128.0L545.0 128.0L545.0 126.5L550.0 126.5L550.0 125.0L555.0 125.0L555.0 123.5L560.0 123.5L560.0 122.0L564.8 122.0L564.8 121.6L569.6 121.6L569.6 121.2L574.4 121.2L574.4 120.8L579.2 120.8L579.2 120.4L584.0 120.4L584.0 120.0L589.0 120.0L589.0 120.8L594.0 120.8L594.0 121.5L599.0 121.5L599.0 122.2L604.0 122.2L604.0 123.0L609.3 123.0L609.3 125.3L614.7 125.3L614.7 127.7L620.0 127.7L620.0 130.0L624.7 130.0L624.7 133.3L629.3 133.3L629.3 136.7L634.0 136.7L634.0 140.0L637.0 140.0L637.0 145.5L640.0 145.5L640.0 151.0L638.0 151.0L638.0 156.5L636.0 156.5L636.0 162.0L630.0 162.0L630.0 167.0L624.0 167.0L624.0 172.0L619.3 172.0L619.3 174.7L614.7 174.7L614.7 177.3L610.0 177.3L610.0 180.0L605.5 180.0L605.5 181.8L601.0 181.8L601.0 183.5L596.5 183.5L596.5 185.2L592.0 185.2L592.0 187.0L587.2 187.0L587.2 188.0L582.4 188.0L582.4 189.0L577.6 189.0L577.6 190.0L572.8 190.0L572.8 191.0L568.0 191.0L568.0 192.0L563.0 192.0L563.0 191.5L558.0 191.5L558.0 191.0L553.0 191.0L553.0 190.5L548.0 190.5L548.0 190.0L543.5 190.0L543.5 188.0L539.0 188.0L539.0 186.0L534.5 186.0L534.5 184.0L530.0 184.0L530.0 182.0L525.3 182.0L525.3 178.0L520.7 178.0L520.7 174.0L516.0 174.0L516.0 170.0L513.3 170.0L513.3 164.3L510.7 164.3L510.7 158.7L508.0 158.7L508.0 153.0Z" fill="url(#cyG0)"/><path d="M508.0 153.0L510.0 153.0L510.0 148.0L512.0 148.0L512.0 143.0L518.0 143.0L518.0 139.0L524.0 139.0L524.0 135.0L529.3 135.0L529.3 132.7L534.7 132.7L534.7 130.3L540.0 130.3L540.0 128.0L545.0 128.0L545.0 126.5L550.0 126.5L550.0 125.0L555.0 125.0L555.0 123.5L560.0 123.5L560.0 122.0L564.8 122.0L564.8 121.6L569.6 121.6L569.6 121.2L574.4 121.2L574.4 120.8L579.2 120.8L579.2 120.4L584.0 120.4L584.0 120.0L589.0 120.0L589.0 120.8L594.0 120.8L594.0 121.5L599.0 121.5L599.0 122.2L604.0 122.2L604.0 123.0L609.3 123.0L609.3 125.3L614.7 125.3L614.7 127.7L620.0 127.7L620.0 130.0L624.7 130.0L624.7 133.3L629.3 133.3L629.3 136.7L634.0 136.7L634.0 140.0L637.0 140.0L637.0 145.5L640.0 145.5L640.0 151.0L638.0 151.0L638.0 156.5L636.0 156.5L636.0 162.0L630.0 162.0L630.0 167.0L624.0 167.0L624.0 172.0L619.3 172.0L619.3 174.7L614.7 174.7L614.7 177.3L610.0 177.3L610.0 180.0L605.5 180.0L605.5 181.8L601.0 181.8L601.0 183.5L596.5 183.5L596.5 185.2L592.0 185.2L592.0 187.0L587.2 187.0L587.2 188.0L582.4 188.0L582.4 189.0L577.6 189.0L577.6 190.0L572.8 190.0L572.8 191.0L568.0 191.0L568.0 192.0L563.0 192.0L563.0 191.5L558.0 191.5L558.0 191.0L553.0 191.0L553.0 190.5L548.0 190.5L548.0 190.0L543.5 190.0L543.5 188.0L539.0 188.0L539.0 186.0L534.5 186.0L534.5 184.0L530.0 184.0L530.0 182.0L525.3 182.0L525.3 178.0L520.7 178.0L520.7 174.0L516.0 174.0L516.0 170.0L513.3 170.0L513.3 164.3L510.7 164.3L510.7 158.7L508.0 158.7L508.0 153.0Z" fill="url(#cyD0)" opacity="0.7"/></g>
<g clip-path="url(#cyZ1)"><path d="M508.0 153.0L510.0 153.0L510.0 148.0L512.0 148.0L512.0 143.0L518.0 143.0L518.0 139.0L524.0 139.0L524.0 135.0L529.3 135.0L529.3 132.7L534.7 132.7L534.7 130.3L540.0 130.3L540.0 128.0L545.0 128.0L545.0 126.5L550.0 126.5L550.0 125.0L555.0 125.0L555.0 123.5L560.0 123.5L560.0 122.0L564.8 122.0L564.8 121.6L569.6 121.6L569.6 121.2L574.4 121.2L574.4 120.8L579.2 120.8L579.2 120.4L584.0 120.4L584.0 120.0L589.0 120.0L589.0 120.8L594.0 120.8L594.0 121.5L599.0 121.5L599.0 122.2L604.0 122.2L604.0 123.0L609.3 123.0L609.3 125.3L614.7 125.3L614.7 127.7L620.0 127.7L620.0 130.0L624.7 130.0L624.7 133.3L629.3 133.3L629.3 136.7L634.0 136.7L634.0 140.0L637.0 140.0L637.0 145.5L640.0 145.5L640.0 151.0L638.0 151.0L638.0 156.5L636.0 156.5L636.0 162.0L630.0 162.0L630.0 167.0L624.0 167.0L624.0 172.0L619.3 172.0L619.3 174.7L614.7 174.7L614.7 177.3L610.0 177.3L610.0 180.0L605.5 180.0L605.5 181.8L601.0 181.8L601.0 183.5L596.5 183.5L596.5 185.2L592.0 185.2L592.0 187.0L587.2 187.0L587.2 188.0L582.4 188.0L582.4 189.0L577.6 189.0L577.6 190.0L572.8 190.0L572.8 191.0L568.0 191.0L568.0 192.0L563.0 192.0L563.0 191.5L558.0 191.5L558.0 191.0L553.0 191.0L553.0 190.5L548.0 190.5L548.0 190.0L543.5 190.0L543.5 188.0L539.0 188.0L539.0 186.0L534.5 186.0L534.5 184.0L530.0 184.0L530.0 182.0L525.3 182.0L525.3 178.0L520.7 178.0L520.7 174.0L516.0 174.0L516.0 170.0L513.3 170.0L513.3 164.3L510.7 164.3L510.7 158.7L508.0 158.7L508.0 153.0Z" fill="url(#cyG1)"/><path d="M508.0 153.0L510.0 153.0L510.0 148.0L512.0 148.0L512.0 143.0L518.0 143.0L518.0 139.0L524.0 139.0L524.0 135.0L529.3 135.0L529.3 132.7L534.7 132.7L534.7 130.3L540.0 130.3L540.0 128.0L545.0 128.0L545.0 126.5L550.0 126.5L550.0 125.0L555.0 125.0L555.0 123.5L560.0 123.5L560.0 122.0L564.8 122.0L564.8 121.6L569.6 121.6L569.6 121.2L574.4 121.2L574.4 120.8L579.2 120.8L579.2 120.4L584.0 120.4L584.0 120.0L589.0 120.0L589.0 120.8L594.0 120.8L594.0 121.5L599.0 121.5L599.0 122.2L604.0 122.2L604.0 123.0L609.3 123.0L609.3 125.3L614.7 125.3L614.7 127.7L620.0 127.7L620.0 130.0L624.7 130.0L624.7 133.3L629.3 133.3L629.3 136.7L634.0 136.7L634.0 140.0L637.0 140.0L637.0 145.5L640.0 145.5L640.0 151.0L638.0 151.0L638.0 156.5L636.0 156.5L636.0 162.0L630.0 162.0L630.0 167.0L624.0 167.0L624.0 172.0L619.3 172.0L619.3 174.7L614.7 174.7L614.7 177.3L610.0 177.3L610.0 180.0L605.5 180.0L605.5 181.8L601.0 181.8L601.0 183.5L596.5 183.5L596.5 185.2L592.0 185.2L592.0 187.0L587.2 187.0L587.2 188.0L582.4 188.0L582.4 189.0L577.6 189.0L577.6 190.0L572.8 190.0L572.8 191.0L568.0 191.0L568.0 192.0L563.0 192.0L563.0 191.5L558.0 191.5L558.0 191.0L553.0 191.0L553.0 190.5L548.0 190.5L548.0 190.0L543.5 190.0L543.5 188.0L539.0 188.0L539.0 186.0L534.5 186.0L534.5 184.0L530.0 184.0L530.0 182.0L525.3 182.0L525.3 178.0L520.7 178.0L520.7 174.0L516.0 174.0L516.0 170.0L513.3 170.0L513.3 164.3L510.7 164.3L510.7 158.7L508.0 158.7L508.0 153.0Z" fill="url(#cyD1)" opacity="0.7"/></g>
<g clip-path="url(#cyGray)" opacity="0.5"><path d="M508.0 153.0L510.0 153.0L510.0 148.0L512.0 148.0L512.0 143.0L518.0 143.0L518.0 139.0L524.0 139.0L524.0 135.0L529.3 135.0L529.3 132.7L534.7 132.7L534.7 130.3L540.0 130.3L540.0 128.0L545.0 128.0L545.0 126.5L550.0 126.5L550.0 125.0L555.0 125.0L555.0 123.5L560.0 123.5L560.0 122.0L564.8 122.0L564.8 121.6L569.6 121.6L569.6 121.2L574.4 121.2L574.4 120.8L579.2 120.8L579.2 120.4L584.0 120.4L584.0 120.0L589.0 120.0L589.0 120.8L594.0 120.8L594.0 121.5L599.0 121.5L599.0 122.2L604.0 122.2L604.0 123.0L609.3 123.0L609.3 125.3L614.7 125.3L614.7 127.7L620.0 127.7L620.0 130.0L624.7 130.0L624.7 133.3L629.3 133.3L629.3 136.7L634.0 136.7L634.0 140.0L637.0 140.0L637.0 145.5L640.0 145.5L640.0 151.0L638.0 151.0L638.0 156.5L636.0 156.5L636.0 162.0L630.0 162.0L630.0 167.0L624.0 167.0L624.0 172.0L619.3 172.0L619.3 174.7L614.7 174.7L614.7 177.3L610.0 177.3L610.0 180.0L605.5 180.0L605.5 181.8L601.0 181.8L601.0 183.5L596.5 183.5L596.5 185.2L592.0 185.2L592.0 187.0L587.2 187.0L587.2 188.0L582.4 188.0L582.4 189.0L577.6 189.0L577.6 190.0L572.8 190.0L572.8 191.0L568.0 191.0L568.0 192.0L563.0 192.0L563.0 191.5L558.0 191.5L558.0 191.0L553.0 191.0L553.0 190.5L548.0 190.5L548.0 190.0L543.5 190.0L543.5 188.0L539.0 188.0L539.0 186.0L534.5 186.0L534.5 184.0L530.0 184.0L530.0 182.0L525.3 182.0L525.3 178.0L520.7 178.0L520.7 174.0L516.0 174.0L516.0 170.0L513.3 170.0L513.3 164.3L510.7 164.3L510.7 158.7L508.0 158.7L508.0 153.0Z" fill="url(#cyD1)" transform="translate(9 5)"/></g>
<path d="M438.0 166.0L438.5 166.0L438.5 160.0L439.1 160.0L439.1 154.0L439.6 154.0L439.6 148.0L443.8 148.0L443.8 141.5L448.0 141.5L448.0 135.0L454.0 135.0L454.0 130.5L460.0 130.5L460.0 126.0L466.0 126.0L466.0 121.5L472.0 121.5L472.0 117.0L477.6 117.0L477.6 113.0L483.2 113.0L483.2 109.0L488.8 109.0L488.8 105.0L494.4 105.0L494.4 101.0L500.0 101.0L500.0 97.0L505.7 97.0L505.7 95.3L511.4 95.3L511.4 93.6L517.1 93.6L517.1 91.9L522.9 91.9L522.9 90.1L528.6 90.1L528.6 88.4L534.3 88.4L534.3 86.7L540.0 86.7L540.0 85.0L545.7 85.0L545.7 84.4L551.4 84.4L551.4 83.9L557.1 83.9L557.1 83.3L562.9 83.3L562.9 82.7L568.6 82.7L568.6 82.1L574.3 82.1L574.3 81.6L580.0 81.6L580.0 81.0L586.4 81.0L586.4 81.4L592.8 81.4L592.8 81.8L599.2 81.8L599.2 82.2L605.6 82.2L605.6 82.6L612.0 82.6L612.0 83.0L618.4 83.0L618.4 83.9L624.8 83.9L624.8 84.8L631.2 84.8L631.2 85.8L637.6 85.8L637.6 86.7L644.0 86.7L644.0 87.6L651.5 87.6L651.5 89.7L658.9 89.7L658.9 91.9L666.4 91.9L666.4 94.0L672.8 94.0L672.8 97.7L679.2 97.7L679.2 101.3L685.6 101.3L685.6 105.0L693.6 105.0L693.6 111.5L701.6 111.5L701.6 118.0L711.0 118.0L711.0 129.0L716.5 129.0L716.5 140.0L716.7 140.0L716.7 146.0L716.8 146.0L716.8 152.0L717.0 152.0L717.0 158.0L715.5 158.0L715.5 164.5L714.0 164.5L714.0 171.0L709.9 171.0L709.9 177.0L705.7 177.0L705.7 183.0L701.6 183.0L701.6 189.0L693.6 189.0L693.6 197.0L685.6 197.0L685.6 205.0L677.6 205.0L677.6 210.0L669.6 210.0L669.6 215.0L663.2 215.0L663.2 217.5L656.8 217.5L656.8 220.0L650.4 220.0L650.4 222.5L644.0 222.5L644.0 225.0L638.4 225.0L638.4 226.6L632.8 226.6L632.8 228.2L627.2 228.2L627.2 229.8L621.6 229.8L621.6 231.4L616.0 231.4L616.0 233.0L609.5 233.0L609.5 234.2L603.0 234.2L603.0 235.5L596.5 235.5L596.5 236.8L590.0 236.8L590.0 238.0L583.5 238.0L583.5 238.5L577.0 238.5L577.0 239.0L570.5 239.0L570.5 239.5L564.0 239.5L564.0 240.0L557.7 240.0L557.7 240.0L551.3 240.0L551.3 240.0L545.0 240.0L545.0 240.0L538.7 240.0L538.7 240.0L532.3 240.0L532.3 240.0L526.0 240.0L526.0 240.0L519.6 240.0L519.6 239.2L513.2 239.2L513.2 238.4L506.8 238.4L506.8 237.6L500.4 237.6L500.4 236.8L494.0 236.8L494.0 236.0L487.6 236.0L487.6 233.0L481.2 233.0L481.2 230.0L474.8 230.0L474.8 227.0L468.4 227.0L468.4 224.0L462.0 224.0L462.0 221.0L456.7 221.0L456.7 214.3L451.3 214.3L451.3 207.7L446.0 207.7L446.0 201.0L443.7 201.0L443.7 194.7L441.3 194.7L441.3 188.3L439.0 188.3L439.0 182.0L438.5 182.0L438.5 174.0L438.0 174.0L438.0 166.0Z" fill="none" stroke="#06364a" stroke-width="0.9" opacity="0.8"/>
</g>
<g id="leaders" fill="none" stroke="#000" stroke-width="1.6">
<path d="M417.3 104V125.2H580"/>
<path d="M393.2 193V169H558"/>
<path d="M714 168.6H753.4V145"/>
</g>
<path d="M417.3 97.5l-4.2 8h8.4zM393.2 200l-4.2 -8h8.4zM753.4 138l-4.2 8h8.4z" fill="#000"/>
<g id="chartA">
<rect x="829" y="21" width="339" height="229.5" fill="#fff"/>
<rect x="1166.8" y="22" width="1" height="228.5" fill="#d3ecd0"/>
<path d="M831 153.7H1101" stroke="#222" stroke-width="1.1" fill="none"/>
<path d="M1106.6 153.7l-6.5 -2.6v5.2z" fill="#111"/>
<path d="M858.6 49V250.5" stroke="#222" stroke-width="1" fill="none"/>
<path d="M858.6 45.2l-1.6 4.3h3.2z" fill="#111"/>
<path d="M880.0 39.6V250.5" stroke="#ff0a1e" stroke-width="1.9" stroke-dasharray="7.4 6" fill="none"/>
<path d="M907.0 39.6V250.5" stroke="#3f6fc6" stroke-width="1.9" stroke-dasharray="7.4 6" fill="none"/>
<path d="M1059.8 39.6V250.5" stroke="#3f6fc6" stroke-width="1.9" stroke-dasharray="7.4 6" fill="none"/>
<path d="M1084.8 39.6V250.5" stroke="#ff0a1e" stroke-width="1.9" stroke-dasharray="7.4 6" fill="none"/>
<path d="M908.6 71V153M971.6 71V153" stroke="#333" stroke-width="1" stroke-dasharray="5.5 3" fill="none"/>
<path d="M910 88.3H970.5" stroke="#111" stroke-width="0.9" fill="none"/>
<path d="M909 88.3l4 -1.8v3.6zM971.4 88.3l-4 -1.8v3.6z" fill="#111"/>
<path d="M880.0 226.7C883.8 217.2 898.3 181.1 903.0 170.0C907.7 158.9 906.5 162.3 908.0 160.0C909.5 157.7 910.1 157.0 912.0 156.0C913.9 155.0 914.7 154.3 919.4 153.9C924.1 153.5 933.6 153.7 940.0 153.7C946.4 153.7 953.7 153.8 958.0 153.7C962.3 153.6 963.8 153.8 966.0 153.2C968.2 152.6 970.0 151.7 971.5 150.0C973.0 148.3 973.6 146.5 975.0 143.0C976.4 139.5 977.5 135.0 979.7 128.8C981.9 122.6 985.0 113.8 988.0 106.0C991.0 98.2 994.5 88.6 997.7 82.0C1000.9 75.4 1004.2 69.9 1007.2 66.6C1010.2 63.3 1012.8 62.4 1015.6 62.1C1018.4 61.8 1020.6 61.8 1024.0 64.7C1027.4 67.6 1032.0 73.5 1036.0 79.6C1040.0 85.7 1044.0 92.8 1048.0 101.2C1052.0 109.6 1056.2 120.9 1059.8 130.0C1063.4 139.1 1066.0 145.7 1069.6 155.6C1073.2 165.5 1078.6 181.0 1081.6 189.2C1084.6 197.4 1086.6 202.4 1087.6 205.0" stroke="#4a90d9" stroke-width="1.3" fill="none"/>
<path d="M1089.2 209l-4.6 -5.2 3.4 -1.3z" fill="#4a90d9"/>
<path d="M902.8 170C908 160 911 154.5 919.4 153.7" stroke="#e00000" stroke-width="1.3" fill="none"/>
<path d="M958 153.7C969 153.5 973 147 978.5 136" stroke="#e00000" stroke-width="1.3" fill="none"/>
<path d="M902.6 156V170M978.5 137V152" stroke="#222" stroke-width="0.6" stroke-dasharray="1 1" fill="none"/>
<circle cx="901.6" cy="153.7" r="3.1" fill="#f00000" stroke="#333" stroke-width="0.4"/>
<circle cx="919.4" cy="153.7" r="3.1" fill="#f00000" stroke="#333" stroke-width="0.4"/>
<circle cx="978.5" cy="153.7" r="3.1" fill="#f00000" stroke="#333" stroke-width="0.4"/>
<circle cx="908.4" cy="153.7" r="3.1" fill="#5b8fd0" stroke="#333" stroke-width="0.4"/>
<circle cx="958.0" cy="153.7" r="3.1" fill="#5b8fd0" stroke="#333" stroke-width="0.4"/>
<circle cx="971.3" cy="153.7" r="3.1" fill="#5b8fd0" stroke="#333" stroke-width="0.4"/>
<path d="M886 165L898 157" stroke="#222" stroke-width="0.6" fill="none"/><path d="M899.5 156l-3.6 0.6 1.6 2.2z" fill="#222"/>
<path d="M892.5 139.5L905.5 149.5" stroke="#7fb0e6" stroke-width="0.6" fill="none"/><path d="M907 150.8l-3.5 -0.8 1.6 -2.2z" fill="#7fb0e6"/>
<path d="M931 190L913.5 168" stroke="#222" stroke-width="0.6" fill="none"/><path d="M912.4 166.6l0.7 3.6 2.2 -1.7z" fill="#222"/>
<path d="M971.3 178V160" stroke="#7fb0e6" stroke-width="0.6" fill="none"/><path d="M971.3 157.5l-1.5 3.6h3z" fill="#7fb0e6"/>
<path d="M988.5 166L981.5 158" stroke="#222" stroke-width="0.6" fill="none"/><path d="M980.4 156.8l0.9 3.6 2.1 -1.8z" fill="#222"/>
<text class="se" x="836.8" y="32.0" font-size="11" fill="#222" font-weight="normal" font-style="normal" >Δ<tspan font-style="italic">ρ</tspan><tspan font-size="8" dy="1.6" font-style="italic">i,n</tspan></text>
<path d="M836.8 36.4H858.6" stroke="#222" stroke-width="0.7"/>
<text class="se" x="842.5" y="47.8" font-size="11" fill="#222" font-weight="normal" font-style="normal" >Δ<tspan font-style="italic">t</tspan></text>
<text class="se" x="863.0" y="40.4" font-size="11.2" fill="#222" font-weight="normal" font-style="normal" textLength="56.5" lengthAdjust="spacingAndGlyphs">g/cm<tspan font-size="7" dy="-4">3</tspan><tspan dy="4">/month</tspan></text>
<text class="se" x="913.0" y="82.3" font-size="11.3" fill="#222" font-weight="normal" font-style="normal" textLength="55.5" lengthAdjust="spacingAndGlyphs">Lazy zone 2<tspan font-style="italic">s</tspan></text>
<text class="sa" x="866.8" y="137.5" font-size="9.2" fill="#222" font-weight="normal" font-style="normal" textLength="37.5" lengthAdjust="spacingAndGlyphs">Θ<tspan font-size="6" dy="1.6">2</tspan><tspan dy="-1.6">=K(1-s)</tspan></text>
<text class="sa" x="875.5" y="173.0" font-size="9.6" fill="#222" font-weight="normal" font-style="normal" >Θ<tspan font-size="6.3" dy="1.8">3</tspan></text>
<text class="sa" x="922.3" y="165.5" font-size="9.6" fill="#222" font-weight="normal" font-style="normal" >Θ<tspan font-size="6.3" dy="1.8">4</tspan></text>
<text class="sa" x="948.8" y="163.5" font-size="9.6" fill="#222" font-weight="normal" font-style="normal" >Θ<tspan font-size="6.3" dy="1.8">5</tspan></text>
<text class="sa" x="988.6" y="174.0" font-size="9.6" fill="#222" font-weight="normal" font-style="normal" >Θ<tspan font-size="6.3" dy="1.8">6</tspan></text>
<text class="sa" x="968.0" y="187.5" font-size="9.2" fill="#222" font-weight="normal" font-style="normal" textLength="39" lengthAdjust="spacingAndGlyphs">Θ<tspan font-size="6" dy="1.6">1</tspan><tspan dy="-1.6">=K(1+s)</tspan></text>
<text class="se" x="916.6" y="201.5" font-size="10.3" fill="#f01010" font-weight="normal" font-style="normal" textLength="50.5" lengthAdjust="spacingAndGlyphs"><tspan font-style="italic">C</tspan><tspan font-size="6.5" dy="-3.6">1</tspan><tspan dy="3.6"> continuity</tspan></text>
<text class="se" x="1086.0" y="171.8" font-size="10.5" fill="#222" font-weight="normal" font-style="normal" ><tspan font-style="italic">Ξ</tspan><tspan font-size="8" dy="1.8" font-style="italic">i,n</tspan><tspan dy="-1.8"> =</tspan></text>
<text class="se" x="1115.0" y="163.0" font-size="11" fill="#222" font-weight="normal" font-style="normal" ><tspan font-style="italic">U</tspan><tspan font-size="8" dy="1.6" font-style="italic">i,n</tspan></text>
<path d="M1114.6 167.6H1132.2" stroke="#222" stroke-width="0.7"/>
<text class="se" x="1115.5" y="179.5" font-size="11" fill="#222" font-weight="normal" font-style="normal" ><tspan font-style="italic">ρ</tspan><tspan font-size="8" dy="1.6" font-style="italic">i,n</tspan></text>
<text class="se" x="1133.0" y="171.8" font-size="11.2" fill="#222" font-weight="normal" font-style="normal" >J/g/cm<tspan font-size="7" dy="-4">3</tspan></text>
</g>
<text class="se" x="841.3" y="198.6" font-size="23.5" fill="#000" font-weight="bold" font-style="italic" textLength="57.5" lengthAdjust="spacingAndGlyphs" stroke="#000" stroke-width="0.7">disuse</text>
<text class="se" x="1069.3" y="198.6" font-size="23.5" fill="#000" font-weight="bold" font-style="italic" textLength="112.5" lengthAdjust="spacingAndGlyphs" stroke="#000" stroke-width="0.7">overloading</text>
<g id="chartB">
<path d="M907.0 437.2L907.0 397.0L931.6 397.0L931.6 337.6L957.3 337.6L957.3 296.0L983.7 296.0L983.7 337.6L1009.2 337.6L1009.2 371.2L1034.8 371.2L1034.8 397.6L1059.5 397.6L1059.5 437.2Z" fill="#4472c4"/>
<path d="M879.3 436.8L879.3 409.1L905.7 409.1L905.7 402.0L931.6 402.0L931.6 395.7L958.0 395.7L958.0 387.0L985.0 387.0L985.0 392.8L1009.0 392.8L1009.0 397.6L1033.6 397.6L1033.6 401.2L1059.5 401.2L1059.5 409.1L1085.2 409.1L1085.2 436.0L1059.5 436.0L1059.5 437.2L1033.6 437.2L1033.6 438.4L1007.0 438.4L1007.0 437.6L985.0 437.6L985.0 438.0L958.0 438.0L958.0 436.8Z" fill="#ff0000"/>
<path d="M858.4 238V437.4H1209" stroke="#000" stroke-width="1.1" fill="none"/>
<path d="M858.4 231l-3.4 8h6.8zM1216.2 437.4l-8 -3.8v7.6z" fill="#000"/>
<path d="M880.0 250.5V464" stroke="#ff0a1e" stroke-width="1.3" stroke-dasharray="11 6.2" stroke-dashoffset="2" fill="none"/>
<path d="M907.0 250.5V464" stroke="#4472c4" stroke-width="1.3" stroke-dasharray="11 6.2" stroke-dashoffset="2" fill="none"/>
<path d="M1059.8 250.5V464" stroke="#4472c4" stroke-width="1.3" stroke-dasharray="11 6.2" stroke-dashoffset="2" fill="none"/>
<path d="M1084.6 250.5V464" stroke="#ff0a1e" stroke-width="1.3" stroke-dasharray="11 6.2" stroke-dashoffset="2" fill="none"/>
<path d="M1109 303L999 353" stroke="#000" stroke-width="1.6" fill="none"/>
<path d="M993.2 355.8l7.4 -7.2 3.2 7z" fill="#000"/>
<path d="M1111.4 397.6L1055 422" stroke="#000" stroke-width="1.6" fill="none"/>
<path d="M1049 424.6l7.4 -7.2 3.1 7.1z" fill="#000"/>
<text class="sa" x="1118.0" y="310.6" font-size="21.3" fill="#111" font-weight="normal" font-style="normal" textLength="61.5" lengthAdjust="spacingAndGlyphs">t=T+1</text>
<text class="sa" x="1120.6" y="405.0" font-size="21.3" fill="#111" font-weight="normal" font-style="normal" textLength="33.6" lengthAdjust="spacingAndGlyphs">t=T</text>
<text class="se" x="1092.4" y="460.0" font-size="15" fill="#000" font-weight="normal" font-style="normal" textLength="127" lengthAdjust="spacingAndGlyphs">Mechanical stimulus</text>
<text class="se" transform="translate(841.5 422.5) rotate(-90)" font-size="15" fill="#000" textLength="165" lengthAdjust="spacingAndGlyphs">Numbers of bone elements</text>
</g>
<g id="lattice">
<rect x="1265" y="127" width="385.2" height="344.6" fill="url(#laBg)"/>
<path d="M1265.5 471V127.5H1650" fill="none" stroke="#0f1c3a" stroke-width="1" opacity="0.5"/>
<g clip-path="url(#laBox)">
<path d="M1267.6 245.3L1271.8 242.4L1274.8 238.4L1274.5 232.1L1282.5 229.2L1285.6 222.5L1286.6 219.3L1290.3 217.1L1290.9 211.3L1295.6 211.1L1301.4 203.2L1305.0 199.2L1307.5 195.2L1307.8 195.1L1312.4 187.8L1319.8 187.3L1319.7 183.8L1324.5 178.4L1326.2 175.8L1332.2 172.0L1336.7 164.6L1337.4 160.0L1339.8 155.5L1344.0 154.4L1346.0 150.9L1351.2 145.0L1359.1 144.8L1361.9 143.6L1369.3 140.3L1376.2 138.9L1380.4 142.1L1382.1 140.6L1389.3 138.4L1392.4 134.6L1398.3 138.4L1403.4 136.3L1412.2 136.3L1414.2 132.2L1420.1 133.4L1423.0 132.3L1431.5 133.4L1432.6 134.4L1437.9 131.8L1445.6 135.4L1449.2 136.0L1455.2 133.4L1459.0 133.2L1462.8 133.6L1471.0 138.6L1473.5 135.4L1483.1 139.6L1485.4 139.8L1491.6 144.6L1496.2 144.2L1499.4 148.4L1504.6 148.0L1513.9 147.1L1518.6 152.3L1523.2 152.5L1525.7 151.7L1531.1 154.8L1537.0 153.8L1545.9 156.8L1550.9 155.8L1553.6 158.2L1558.7 156.9L1563.5 157.2L1568.8 163.0L1577.2 162.5L1580.3 162.4L1583.6 163.5L1592.6 168.1L1595.9 169.1L1603.4 170.0L1607.5 173.8L1610.5 176.9L1614.7 179.1L1621.8 183.6L1623.9 188.3L1628.8 191.0L1628.5 195.4L1632.7 200.7L1636.8 206.0L1640.8 210.5L1639.3 214.8L1641.4 220.9L1639.5 226.1L1642.3 230.4L1643.0 236.9L1640.7 239.8L1639.0 246.5L1643.1 249.7L1641.9 256.0L1642.2 258.3L1642.5 265.4L1641.9 269.6L1641.6 276.4L1641.7 281.1L1638.5 283.2L1640.7 290.8L1639.5 296.0L1641.7 297.6L1640.9 303.6L1638.7 308.1L1640.1 313.3L1639.4 317.6L1640.8 324.4L1641.6 330.5L1639.2 337.2L1637.6 339.7L1638.6 344.8L1637.4 352.1L1638.3 353.1L1639.2 358.5L1638.4 364.9L1638.2 373.2L1639.1 375.5L1638.6 381.7L1633.3 383.4L1631.5 389.8L1630.4 396.1L1625.6 397.1L1624.0 399.5L1617.0 406.7L1616.6 408.7L1613.7 416.8L1609.4 418.6L1604.4 421.4L1604.1 425.4L1599.9 431.7L1593.8 431.8L1591.7 436.5L1584.6 439.1L1582.3 442.2L1573.4 444.4L1567.3 447.4L1563.7 447.9L1559.8 451.9L1550.1 451.5L1545.8 454.8L1542.8 452.3L1534.5 453.0L1532.5 454.9L1525.3 457.1L1520.3 459.0L1515.5 457.8L1510.4 460.0L1503.9 461.4L1497.4 463.7L1493.1 464.0L1489.3 466.5L1480.2 465.1L1476.9 469.0L1473.7 467.5L1463.8 469.2L1460.5 468.5L1456.5 469.3L1449.9 471.1L1444.4 467.5L1441.8 465.6L1433.9 468.0L1427.7 467.1L1426.0 464.2L1418.9 465.1L1417.1 460.8L1409.9 462.1L1405.0 460.0L1398.2 460.4L1396.6 456.6L1388.6 459.4L1386.5 457.5L1377.5 456.7L1377.5 457.0L1371.0 451.0L1366.8 450.8L1360.8 453.5L1356.1 448.1L1348.4 450.5L1342.2 447.2L1338.1 443.2L1333.6 441.0L1325.5 441.0L1319.8 437.7L1316.7 437.9L1312.6 431.4L1304.6 429.0L1300.5 428.4L1297.3 426.3L1287.7 426.5L1283.2 424.7L1280.0 424.6L1275.3 421.6L1273.3 416.1L1272.7 412.1L1273.6 403.7L1271.6 399.8L1273.7 393.7L1273.1 391.1L1269.3 386.0L1268.9 378.0L1271.4 373.6L1272.8 369.9L1269.8 366.5L1268.2 361.2L1268.3 353.2L1272.9 350.9L1269.0 343.0L1272.8 340.9L1271.9 333.1L1270.8 329.2L1268.7 324.1L1270.6 319.2L1269.3 313.1L1271.5 310.8L1271.3 304.7L1271.4 300.1L1270.0 295.4L1270.6 289.5L1267.2 282.6L1267.7 277.6L1271.1 274.9L1270.4 267.4L1268.4 266.8L1268.8 259.2L1267.6 252.3L1265.6 247.4L1267.0 244.0Z" fill="#3f9a7c"/>
<g clip-path="url(#laClip)">
<rect x="1265" y="127" width="386" height="345" fill="url(#laGrid)"/>
<path d="M1267.0 244.0L1275.0 260.0L1330.0 277.0L1390.0 295.0L1450.0 311.0L1500.0 296.0L1560.0 277.0L1610.0 261.0L1640.0 246.0L1640.0 209.0L1641.0 260.0L1641.0 330.0L1637.0 381.0L1610.0 419.0L1585.0 440.0L1564.0 449.0L1530.0 456.0L1488.0 466.0L1450.0 469.0L1400.0 460.0L1355.0 450.0L1322.0 440.0L1305.0 430.0L1275.0 421.0L1271.0 380.0L1270.0 320.0L1269.0 270.0Z" fill="#0a2a2a" opacity="0.05"/>
<path d="M1450 311L1500 296L1560 277L1610 261L1646 244V400L1600 440L1540 462L1450 472Z" fill="#0a2a2a" opacity="0.13"/>
<path d="M1505.8 266.8v10.0h1.6v-10.0zM1355.6 404.1v18.0h1.2v-18.0zM1488.2 268.1v6.0h1.6v-6.0zM1359.0 378.2v18.0h1.6v-18.0zM1533.5 397.4v14.0h1.6v-14.0zM1437.2 315.7v6.0h1.6v-6.0zM1527.0 327.7v8.0h1.6v-8.0zM1620.6 327.0v6.0h3.0v-6.0zM1309.9 425.6v18.0h2.2v-18.0zM1566.4 402.8v18.0h1.2v-18.0zM1626.3 335.1v18.0h2.2v-18.0zM1574.4 381.4v10.0h1.6v-10.0zM1529.4 270.8v8.0h2.2v-8.0zM1630.7 427.1v6.0h3.0v-6.0zM1375.3 384.7v10.0h1.6v-10.0zM1408.6 302.4v10.0h1.2v-10.0zM1494.9 295.0v8.0h1.6v-8.0zM1441.9 314.1v18.0h1.6v-18.0zM1522.1 424.7v6.0h1.6v-6.0zM1571.7 417.4v14.0h2.2v-14.0zM1298.9 438.2v18.0h2.2v-18.0zM1351.8 358.4v14.0h1.6v-14.0zM1370.6 309.6v18.0h2.2v-18.0zM1544.7 344.7v18.0h3.0v-18.0zM1405.7 454.5v8.0h3.0v-8.0zM1307.8 271.1v6.0h1.6v-6.0zM1501.5 414.9v14.0h1.2v-14.0zM1413.9 377.0v14.0h2.2v-14.0zM1625.6 428.1v6.0h1.2v-6.0zM1521.1 365.6v10.0h2.2v-10.0zM1315.3 345.9v14.0h1.2v-14.0zM1619.3 431.0v10.0h1.6v-10.0zM1458.3 282.5v10.0h1.6v-10.0zM1330.2 409.2v18.0h1.2v-18.0zM1491.2 356.3v6.0h2.2v-6.0zM1592.2 422.5v10.0h1.6v-10.0zM1295.9 431.5v6.0h1.2v-6.0zM1539.2 419.5v18.0h1.6v-18.0zM1321.3 353.7v18.0h1.6v-18.0zM1370.7 430.4v14.0h1.6v-14.0zM1610.3 407.8v8.0h2.2v-8.0zM1419.0 391.6v10.0h3.0v-10.0zM1599.8 349.1v8.0h1.6v-8.0zM1298.1 266.1v18.0h1.6v-18.0zM1487.4 263.4v6.0h1.6v-6.0zM1299.3 268.1v10.0h1.2v-10.0zM1460.6 315.7v14.0h1.6v-14.0zM1469.7 401.6v18.0h3.0v-18.0zM1362.7 353.3v14.0h1.6v-14.0zM1309.1 389.2v10.0h3.0v-10.0zM1423.4 428.7v6.0h1.2v-6.0zM1296.9 402.5v6.0h1.6v-6.0zM1344.2 365.5v8.0h3.0v-8.0zM1341.2 351.3v6.0h3.0v-6.0zM1566.7 427.2v6.0h1.2v-6.0zM1510.4 366.3v6.0h1.2v-6.0zM1609.4 425.8v8.0h3.0v-8.0zM1450.3 303.3v14.0h1.2v-14.0zM1334.4 262.4v14.0h2.2v-14.0zM1609.5 413.5v10.0h3.0v-10.0zM1526.5 403.0v18.0h3.0v-18.0zM1330.9 319.3v6.0h1.2v-6.0zM1545.0 273.0v18.0h3.0v-18.0zM1456.5 426.6v8.0h1.2v-8.0zM1621.8 277.5v8.0h1.2v-8.0zM1489.8 392.3v8.0h3.0v-8.0zM1318.3 433.8v8.0h1.2v-8.0zM1498.6 342.9v18.0h2.2v-18.0zM1612.4 301.4v10.0h1.6v-10.0zM1370.9 287.3v10.0h3.0v-10.0zM1389.1 407.1v6.0h1.2v-6.0zM1440.4 454.7v6.0h1.2v-6.0zM1469.1 359.6v8.0h2.2v-8.0zM1593.0 431.7v10.0h2.2v-10.0zM1331.9 422.9v10.0h1.2v-10.0zM1516.1 369.0v6.0h1.6v-6.0zM1370.5 433.7v18.0h1.6v-18.0zM1373.3 378.7v10.0h1.6v-10.0zM1523.2 426.6v18.0h3.0v-18.0zM1365.7 437.3v6.0h1.2v-6.0zM1504.0 422.1v6.0h1.2v-6.0zM1395.4 287.2v10.0h1.6v-10.0zM1542.6 368.5v14.0h1.2v-14.0zM1315.4 444.4v8.0h1.2v-8.0zM1576.3 374.4v8.0h3.0v-8.0zM1321.0 321.5v6.0h2.2v-6.0zM1350.8 310.2v6.0h2.2v-6.0zM1556.6 432.6v14.0h1.6v-14.0zM1609.2 307.7v8.0h1.6v-8.0zM1593.2 266.8v10.0h3.0v-10.0zM1564.6 428.8v8.0h2.2v-8.0zM1332.5 397.3v14.0h1.2v-14.0zM1585.0 304.9v14.0h2.2v-14.0zM1385.2 415.5v8.0h1.6v-8.0zM1283.5 299.3v10.0h2.2v-10.0zM1587.0 448.6v10.0h2.2v-10.0zM1506.6 339.1v18.0h2.2v-18.0zM1614.1 284.3v10.0h1.6v-10.0zM1484.6 451.8v6.0h1.2v-6.0zM1490.4 328.7v10.0h3.0v-10.0zM1493.8 360.7v14.0h1.6v-14.0zM1367.0 398.8v6.0h1.6v-6.0zM1406.5 275.5v10.0h2.2v-10.0zM1514.5 286.1v10.0h2.2v-10.0zM1515.7 325.0v10.0h1.6v-10.0zM1344.3 390.3v14.0h1.6v-14.0zM1497.2 320.1v18.0h1.2v-18.0zM1384.7 302.6v18.0h2.2v-18.0zM1442.9 347.3v8.0h3.0v-8.0zM1561.5 447.2v8.0h1.2v-8.0zM1377.4 390.1v18.0h2.2v-18.0zM1308.7 445.7v8.0h2.2v-8.0zM1356.1 300.4v6.0h1.2v-6.0zM1363.4 353.7v6.0h3.0v-6.0zM1424.6 383.5v8.0h3.0v-8.0zM1453.5 309.1v6.0h1.2v-6.0zM1556.0 304.2v18.0h3.0v-18.0zM1293.1 310.1v6.0h3.0v-6.0zM1323.1 351.7v18.0h2.2v-18.0zM1618.0 434.0v18.0h3.0v-18.0zM1574.8 367.7v8.0h3.0v-8.0zM1437.5 407.1v10.0h3.0v-10.0zM1501.3 315.0v6.0h2.2v-6.0zM1359.7 326.8v18.0h1.2v-18.0zM1325.0 306.6v8.0h1.6v-8.0zM1298.2 340.7v18.0h3.0v-18.0zM1425.1 301.9v14.0h3.0v-14.0zM1601.6 374.7v6.0h3.0v-6.0zM1447.2 443.9v10.0h3.0v-10.0zM1583.1 446.0v14.0h1.6v-14.0zM1451.3 314.7v14.0h1.2v-14.0zM1415.4 391.1v14.0h1.6v-14.0zM1578.4 439.5v18.0h1.2v-18.0zM1602.4 376.2v6.0h1.2v-6.0zM1507.0 288.2v14.0h1.6v-14.0zM1293.2 335.2v8.0h3.0v-8.0zM1393.0 408.9v14.0h2.2v-14.0zM1546.5 422.6v10.0h1.2v-10.0zM1444.8 406.6v6.0h2.2v-6.0zM1355.9 275.2v6.0h1.2v-6.0zM1617.8 300.5v6.0h1.6v-6.0zM1361.1 353.4v6.0h1.6v-6.0zM1442.9 311.5v10.0h1.6v-10.0zM1493.7 448.0v6.0h1.6v-6.0zM1623.3 282.9v6.0h2.2v-6.0zM1482.9 437.2v14.0h3.0v-14.0zM1614.9 300.3v18.0h1.6v-18.0zM1311.8 411.1v18.0h1.2v-18.0zM1562.4 371.2v6.0h2.2v-6.0zM1467.3 389.7v6.0h2.2v-6.0zM1279.6 343.1v14.0h1.2v-14.0zM1431.5 331.9v14.0h1.6v-14.0zM1432.2 403.6v10.0h3.0v-10.0zM1442.8 421.4v18.0h2.2v-18.0zM1391.4 309.4v6.0h2.2v-6.0zM1593.3 309.1v14.0h3.0v-14.0zM1396.4 357.4v10.0h1.6v-10.0zM1451.0 330.5v10.0h2.2v-10.0zM1376.0 377.1v10.0h1.2v-10.0zM1461.5 298.9v8.0h3.0v-8.0zM1451.4 408.3v14.0h3.0v-14.0zM1436.8 265.3v10.0h1.6v-10.0zM1421.0 309.0v18.0h2.2v-18.0zM1445.8 364.5v14.0h2.2v-14.0zM1402.0 349.6v10.0h2.2v-10.0zM1358.2 401.2v10.0h1.2v-10.0zM1543.2 445.5v8.0h1.6v-8.0zM1353.1 355.5v18.0h2.2v-18.0zM1629.0 422.7v10.0h1.6v-10.0zM1405.3 320.3v18.0h1.6v-18.0z" fill="#0c302e" opacity="0.7"/>
<path d="M1270 338L1340 358L1450 388L1540 364L1640 332" fill="none" stroke="#0c302e" stroke-width="3" opacity="0.4"/>
<path d="M1450 311V470" fill="none" stroke="#0c302e" stroke-width="2.4" opacity="0.55"/>
<path d="M1496 298V464M1545 282V456M1392 296V458M1340 280V446M1300 268V434M1592 268V436" fill="none" stroke="#0c302e" stroke-width="1.6" opacity="0.4"/>
<path d="M1267.0 244.0L1275.0 260.0L1330.0 277.0L1390.0 295.0L1450.0 311.0L1500.0 296.0L1560.0 277.0L1610.0 261.0L1640.0 246.0L1640.0 209.0L1641.0 260.0L1641.0 330.0L1637.0 381.0L1610.0 419.0L1585.0 440.0L1564.0 449.0L1530.0 456.0L1488.0 466.0L1450.0 469.0L1400.0 460.0L1355.0 450.0L1322.0 440.0L1305.0 430.0L1275.0 421.0L1271.0 380.0L1270.0 320.0L1269.0 270.0Z" filter="url(#laPoreSide)"/>
<path d="M1266.2 242.5L1271.0 238.2L1273.8 235.6L1275.0 232.3L1278.2 228.1L1281.6 222.7L1286.5 222.0L1288.4 215.5L1294.0 214.8L1297.0 208.4L1302.1 203.0L1305.0 200.1L1305.4 195.5L1309.6 194.6L1312.5 189.6L1317.9 184.8L1321.0 179.5L1322.3 176.2L1328.5 173.2L1330.4 170.0L1334.5 164.8L1339.4 162.6L1340.5 158.1L1345.2 155.5L1349.5 149.0L1354.1 144.3L1357.1 146.0L1361.3 143.7L1366.3 143.3L1374.9 141.7L1380.8 139.5L1385.4 139.6L1390.4 137.8L1396.5 139.0L1399.9 136.7L1403.1 135.9L1410.6 136.2L1416.4 132.1L1419.5 132.7L1422.9 130.8L1428.5 129.9L1433.1 133.3L1438.4 131.6L1444.5 134.9L1448.2 133.6L1455.2 136.0L1461.4 136.5L1464.0 135.1L1469.4 137.7L1477.3 136.2L1479.1 138.2L1484.7 141.1L1491.5 141.8L1494.2 144.2L1501.1 146.6L1509.0 148.8L1512.2 149.5L1518.1 148.0L1524.3 152.2L1529.4 153.3L1532.4 152.6L1536.3 154.6L1541.3 153.1L1547.2 154.5L1552.9 155.0L1556.6 156.5L1562.2 158.4L1567.3 162.1L1575.4 160.3L1579.2 162.6L1585.1 163.1L1592.7 168.3L1596.4 167.5L1600.2 167.2L1605.9 171.4L1612.6 174.3L1613.7 181.2L1620.5 181.0L1625.2 183.9L1628.1 192.7L1632.6 196.1L1632.9 199.2L1635.5 205.6L1640.0 209.0L1640.0 209.0L1640.0 246.0L1610.0 261.0L1560.0 277.0L1500.0 296.0L1450.0 311.0L1390.0 295.0L1330.0 277.0L1275.0 260.0L1267.0 244.0Z" fill="url(#laStripe)"/>
<g clip-path="url(#laTopClip)">
<ellipse cx="1455" cy="216" rx="100" ry="50" fill="#0c2e2c" opacity="0.15" filter="url(#laBlur)"/>
<path d="M1355 216a100 50 0 1 0 200 0a100 50 0 1 0 -200 0zM1425 208a32 15 0 1 1 64 0a32 15 0 1 1 -64 0z" fill-rule="evenodd" filter="url(#laPoreRing)"/>
<path d="M1420 214C1424 238 1444 250 1470 250C1494 250 1508 238 1512 220" fill="none" stroke="#0a2826" stroke-width="9" opacity="0.4" filter="url(#laBlur3)"/>
<path d="M1266.2 242.5L1271.0 238.2L1273.8 235.6L1275.0 232.3L1278.2 228.1L1281.6 222.7L1286.5 222.0L1288.4 215.5L1294.0 214.8L1297.0 208.4L1302.1 203.0L1305.0 200.1L1305.4 195.5L1309.6 194.6L1312.5 189.6L1317.9 184.8L1321.0 179.5L1322.3 176.2L1328.5 173.2L1330.4 170.0L1334.5 164.8L1339.4 162.6L1340.5 158.1L1345.2 155.5L1349.5 149.0L1354.1 144.3L1357.1 146.0L1361.3 143.7L1366.3 143.3L1374.9 141.7L1380.8 139.5L1385.4 139.6L1390.4 137.8L1396.5 139.0L1399.9 136.7L1403.1 135.9L1410.6 136.2L1416.4 132.1L1419.5 132.7L1422.9 130.8L1428.5 129.9L1433.1 133.3L1438.4 131.6L1444.5 134.9L1448.2 133.6L1455.2 136.0L1461.4 136.5L1464.0 135.1L1469.4 137.7L1477.3 136.2L1479.1 138.2L1484.7 141.1L1491.5 141.8L1494.2 144.2L1501.1 146.6L1509.0 148.8L1512.2 149.5L1518.1 148.0L1524.3 152.2L1529.4 153.3L1532.4 152.6L1536.3 154.6L1541.3 153.1L1547.2 154.5L1552.9 155.0L1556.6 156.5L1562.2 158.4L1567.3 162.1L1575.4 160.3L1579.2 162.6L1585.1 163.1L1592.7 168.3L1596.4 167.5L1600.2 167.2L1605.9 171.4L1612.6 174.3L1613.7 181.2L1620.5 181.0L1625.2 183.9L1628.1 192.7L1632.6 196.1L1632.9 199.2L1635.5 205.6L1640.0 209.0L1640.0 209.0L1640.0 246.0L1610.0 261.0L1560.0 277.0L1500.0 296.0L1450.0 311.0L1390.0 295.0L1330.0 277.0L1275.0 260.0L1267.0 244.0Z" filter="url(#laPoreTop)"/>
</g>
<path d="M1267 244L1275 260L1330 277L1390 295L1450 311L1500 296L1560 277L1610 261L1640 246L1640 209" fill="none" stroke="#0c302e" stroke-width="1.6" opacity="0.55"/>
<rect x="1265" y="127" width="386" height="345" filter="url(#laLite)" opacity="0.7"/>
</g>
</g>
</g>
<g id="blob12">
<rect x="1682" y="0" width="383.6" height="198.5" fill="#525674"/>
<rect x="1683.7" y="0" width="1.2" height="198.5" fill="#f4f4f8"/>
<g clip-path="url(#b1Clip)">
<g filter="url(#bBlur8)" fill="#6f8ce0">
<ellipse cx="1790" cy="44" rx="40" ry="8" opacity="0.5"/>
<ellipse cx="1985" cy="46" rx="36" ry="8" opacity="0.5"/>
<ellipse cx="1880" cy="14" rx="120" ry="14" opacity="0.6"/>
<ellipse cx="1758" cy="136" rx="52" ry="16" opacity="0.65"/>
<ellipse cx="1994" cy="136" rx="44" ry="15" opacity="0.6"/>
<ellipse cx="1875" cy="172" rx="140" ry="14" opacity="0.6"/>
<ellipse cx="2004" cy="72" rx="10" ry="10" opacity="0.5"/>
</g>
<rect x="1808" y="22" width="155" height="164" rx="4" fill="#90abf0" filter="url(#bBlur2)"/>
<rect x="1809" y="26" width="153" height="158" filter="url(#b1col)"/>
<path d="M1686.0 44.0C1686.0 40.7 1696.0 36.0 1705.0 32.0C1714.0 28.0 1725.8 24.0 1740.0 20.0C1754.2 16.0 1771.7 12.7 1790.0 8.0C1808.3 3.3 1823.3 -5.7 1850.0 -8.0C1876.7 -10.3 1925.0 -9.3 1950.0 -6.0C1975.0 -2.7 1986.7 5.7 2000.0 12.0C2013.3 18.3 2021.7 25.3 2030.0 32.0C2038.3 38.7 2048.3 46.7 2050.0 52.0C2051.7 57.3 2046.7 62.7 2040.0 64.0C2033.3 65.3 2019.2 62.0 2010.0 60.0C2000.8 58.0 1993.0 53.7 1985.0 52.0C1977.0 50.3 1976.2 50.3 1962.0 50.0C1947.8 49.7 1925.7 50.3 1900.0 50.0C1874.3 49.7 1828.0 48.0 1808.0 48.0C1788.0 48.0 1791.3 49.3 1780.0 50.0C1768.7 50.7 1752.5 51.7 1740.0 52.0C1727.5 52.3 1714.0 53.3 1705.0 52.0C1696.0 50.7 1686.0 47.3 1686.0 44.0Z" filter="url(#b1top)" opacity="0.8"/>
<path d="M1700.0 150.0C1700.3 144.3 1705.3 136.7 1712.0 132.0C1718.7 127.3 1727.0 123.3 1740.0 122.0C1753.0 120.7 1778.7 121.0 1790.0 124.0C1801.3 127.0 1793.0 135.7 1808.0 140.0C1823.0 144.3 1854.3 150.0 1880.0 150.0C1905.7 150.0 1943.7 144.0 1962.0 140.0C1980.3 136.0 1980.3 127.3 1990.0 126.0C1999.7 124.7 2012.3 128.3 2020.0 132.0C2027.7 135.7 2034.3 142.3 2036.0 148.0C2037.7 153.7 2035.2 161.0 2030.0 166.0C2024.8 171.0 2015.8 174.7 2005.0 178.0C1994.2 181.3 1982.5 183.7 1965.0 186.0C1947.5 188.3 1920.8 191.0 1900.0 192.0C1879.2 193.0 1858.3 192.7 1840.0 192.0C1821.7 191.3 1806.7 190.3 1790.0 188.0C1773.3 185.7 1753.3 181.7 1740.0 178.0C1726.7 174.3 1716.7 170.7 1710.0 166.0C1703.3 161.3 1699.7 155.7 1700.0 150.0Z" filter="url(#b1bot)" opacity="0.8"/>
<g filter="url(#b1dense)"><ellipse cx="1885" cy="14" rx="95" ry="26"/><ellipse cx="1880" cy="176" rx="100" ry="16"/></g>
</g></g>
<g id="blob30">
<rect x="1682" y="233" width="388" height="203" fill="#525674"/>
<rect x="1683.8" y="233" width="1.5" height="203" fill="#f4f4f8"/>
<g clip-path="url(#b2Clip)">
<g filter="url(#bBlur8)" fill="#7f96e0">
<path d="M1690.0 280.0C1693.8 275.0 1708.3 267.0 1720.0 262.0C1731.7 257.0 1745.0 253.7 1760.0 250.0C1775.0 246.3 1791.7 242.5 1810.0 240.0C1828.3 237.5 1850.0 235.5 1870.0 235.0C1890.0 234.5 1910.0 235.0 1930.0 237.0C1950.0 239.0 1973.3 242.5 1990.0 247.0C2006.7 251.5 2018.7 256.2 2030.0 264.0C2041.3 271.8 2055.7 286.0 2058.0 294.0C2060.3 302.0 2052.8 308.0 2044.0 312.0C2035.2 316.0 2017.7 316.0 2005.0 318.0C1992.3 320.0 1985.5 323.0 1968.0 324.0C1950.5 325.0 1928.0 324.3 1900.0 324.0C1872.0 323.7 1823.3 323.7 1800.0 322.0C1776.7 320.3 1773.3 317.3 1760.0 314.0C1746.7 310.7 1730.5 305.7 1720.0 302.0C1709.5 298.3 1702.0 295.7 1697.0 292.0C1692.0 288.3 1686.2 285.0 1690.0 280.0Z" opacity="0.85"/>
<path d="M1697.0 378.0C1696.2 370.0 1702.8 359.7 1710.0 354.0C1717.2 348.3 1729.2 346.3 1740.0 344.0C1750.8 341.7 1756.7 340.7 1775.0 340.0C1793.3 339.3 1817.8 339.7 1850.0 340.0C1882.2 340.3 1941.3 340.3 1968.0 342.0C1994.7 343.7 1998.7 345.3 2010.0 350.0C2021.3 354.7 2031.0 362.5 2036.0 370.0C2041.0 377.5 2042.7 387.5 2040.0 395.0C2037.3 402.5 2030.0 409.7 2020.0 415.0C2010.0 420.3 2000.0 424.0 1980.0 427.0C1960.0 430.0 1926.7 432.5 1900.0 433.0C1873.3 433.5 1843.3 431.8 1820.0 430.0C1796.7 428.2 1777.5 426.7 1760.0 422.0C1742.5 417.3 1725.5 409.3 1715.0 402.0C1704.5 394.7 1697.8 386.0 1697.0 378.0Z" opacity="0.85"/>
<rect x="1778" y="296" width="188" height="90" rx="10" fill="#7f9be8" opacity="0.95"/>
<rect x="1968" y="300" width="60" height="50" rx="10" fill="#4a64b4" opacity="0.6"/>
</g>
<rect x="1782" y="300" width="184" height="80" filter="url(#b2col)"/>
<path d="M1690.0 280.0C1693.8 275.0 1708.3 267.0 1720.0 262.0C1731.7 257.0 1745.0 253.7 1760.0 250.0C1775.0 246.3 1791.7 242.5 1810.0 240.0C1828.3 237.5 1850.0 235.5 1870.0 235.0C1890.0 234.5 1910.0 235.0 1930.0 237.0C1950.0 239.0 1973.3 242.5 1990.0 247.0C2006.7 251.5 2018.7 256.2 2030.0 264.0C2041.3 271.8 2055.7 286.0 2058.0 294.0C2060.3 302.0 2052.8 308.0 2044.0 312.0C2035.2 316.0 2017.7 316.0 2005.0 318.0C1992.3 320.0 1985.5 323.0 1968.0 324.0C1950.5 325.0 1928.0 324.3 1900.0 324.0C1872.0 323.7 1823.3 323.7 1800.0 322.0C1776.7 320.3 1773.3 317.3 1760.0 314.0C1746.7 310.7 1730.5 305.7 1720.0 302.0C1709.5 298.3 1702.0 295.7 1697.0 292.0C1692.0 288.3 1686.2 285.0 1690.0 280.0Z" filter="url(#b2top)"/>
<path d="M1697.0 378.0C1696.2 370.0 1702.8 359.7 1710.0 354.0C1717.2 348.3 1729.2 346.3 1740.0 344.0C1750.8 341.7 1756.7 340.7 1775.0 340.0C1793.3 339.3 1817.8 339.7 1850.0 340.0C1882.2 340.3 1941.3 340.3 1968.0 342.0C1994.7 343.7 1998.7 345.3 2010.0 350.0C2021.3 354.7 2031.0 362.5 2036.0 370.0C2041.0 377.5 2042.7 387.5 2040.0 395.0C2037.3 402.5 2030.0 409.7 2020.0 415.0C2010.0 420.3 2000.0 424.0 1980.0 427.0C1960.0 430.0 1926.7 432.5 1900.0 433.0C1873.3 433.5 1843.3 431.8 1820.0 430.0C1796.7 428.2 1777.5 426.7 1760.0 422.0C1742.5 417.3 1725.5 409.3 1715.0 402.0C1704.5 394.7 1697.8 386.0 1697.0 378.0Z" filter="url(#b2bot)"/>
<g filter="url(#b2warmA)"><ellipse cx="1872" cy="270" rx="150" ry="22"/><ellipse cx="1800" cy="285" rx="70" ry="20"/><ellipse cx="1866" cy="402" rx="150" ry="24"/><ellipse cx="1760" cy="385" rx="50" ry="22"/><ellipse cx="1950" cy="345" rx="40" ry="30"/></g>
<g filter="url(#b2warmB)"><ellipse cx="1875" cy="285" rx="180" ry="34"/><ellipse cx="1868" cy="390" rx="170" ry="36"/></g>
</g></g>
<text class="cj" x="324.2" y="47.6" font-size="23.1" fill="#ff0000" font-weight="900" font-style="normal" text-anchor="start" >椎间融合器桁架模型建立</text>
<text class="cj" x="369.5" y="83.0" font-size="22.8" fill="#4472c4" font-weight="bold" font-style="normal" text-anchor="start" >桁架结构</text>
<text class="cj" x="726.5" y="101.2" font-size="22.8" fill="#4472c4" font-weight="bold" font-style="normal" text-anchor="start" >设计域</text>
<text class="cj" x="726.5" y="128.6" font-size="22.8" fill="#1f3864" font-weight="bold" font-style="normal" text-anchor="start" >力学支撑</text>
<text class="cj" x="355.2" y="227.6" font-size="22.8" fill="#4472c4" font-weight="bold" font-style="normal" text-anchor="start" >目标域</text>
<text class="cj" x="346.8" y="258.3" font-size="22.8" fill="#1f3864" font-weight="bold" font-style="normal" text-anchor="start" >形成骨桥</text>
<text class="cj" x="312.5" y="401.9" font-size="23" fill="#000" font-weight="normal" font-style="normal" text-anchor="start" >术后3个月内<tspan dx="6.5" dy="-1.5">：</tspan><tspan dx="-6.5" dy="1.5">融合器内骨组织再生过程</tspan></text>
<text class="cj" x="312.5" y="429.4" font-size="23" fill="#000" font-weight="normal" font-style="normal" text-anchor="start" >术后3个月<tspan dx="0.8">~</tspan><tspan dx="1">数年</tspan><tspan dx="6.5" dy="-1.5">：</tspan><tspan dx="-6" dy="1.5">应力环境引导的骨演变过程</tspan></text>
<text class="se" x="787.6" y="34.4" font-size="23.4" fill="#000" font-weight="normal" font-style="normal" text-anchor="start" stroke="#000" stroke-width="0.25">(a)</text>
<text class="se" x="787.6" y="246.6" font-size="23.4" fill="#000" font-weight="normal" font-style="normal" text-anchor="start" stroke="#000" stroke-width="0.25">(b)</text>
<text class="cj" x="1871.5" y="222.6" font-size="19.8" fill="#000" font-weight="normal" font-style="normal" text-anchor="middle" stroke="#000" stroke-width="0.2">12个月</text>
<text class="cj" x="1875.6" y="460.0" font-size="19.8" fill="#000" font-weight="normal" font-style="normal" text-anchor="middle" stroke="#000" stroke-width="0.2">30个月</text>
</svg>
</body></html>
